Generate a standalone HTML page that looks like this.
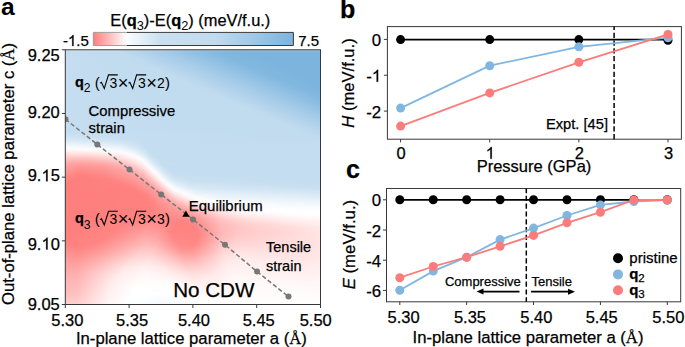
<!DOCTYPE html>
<html><head><meta charset="utf-8"><style>
html,body{margin:0;padding:0;background:#fff;width:685px;height:347px;overflow:hidden}
svg{display:block}
text{font-family:'Liberation Sans',sans-serif;fill:#000;stroke:#000;stroke-width:0.25px}
</style></head><body>
<svg width="685" height="347" viewBox="0 0 685 347">
<defs><clipPath id="hmclip"><rect x="65.30" y="49.80" width="255.20" height="254.70"/></clipPath>
<linearGradient id="g0" gradientUnits="userSpaceOnUse" x1="65.0" y1="0" x2="321.0" y2="0"><stop offset="0.0000" stop-color="#c4ddf0"/><stop offset="0.2031" stop-color="#c0dbef"/><stop offset="0.3906" stop-color="#a2cae8"/><stop offset="0.5898" stop-color="#81b7df"/><stop offset="0.7539" stop-color="#7cb4de"/><stop offset="1.0000" stop-color="#7cb4de"/></linearGradient>
<linearGradient id="g1" gradientUnits="userSpaceOnUse" x1="65.0" y1="0" x2="321.0" y2="0"><stop offset="0.0000" stop-color="#c4ddf0"/><stop offset="0.2188" stop-color="#c0dbef"/><stop offset="0.4023" stop-color="#a3cae8"/><stop offset="0.6055" stop-color="#81b7df"/><stop offset="0.7617" stop-color="#7cb4de"/><stop offset="1.0000" stop-color="#7cb4de"/></linearGradient>
<linearGradient id="g2" gradientUnits="userSpaceOnUse" x1="65.0" y1="0" x2="321.0" y2="0"><stop offset="0.0000" stop-color="#c4ddf0"/><stop offset="0.2344" stop-color="#c0dbef"/><stop offset="0.4141" stop-color="#a4cbe8"/><stop offset="0.6211" stop-color="#81b7df"/><stop offset="0.7695" stop-color="#7cb4de"/><stop offset="1.0000" stop-color="#7cb4de"/></linearGradient>
<linearGradient id="g3" gradientUnits="userSpaceOnUse" x1="65.0" y1="0" x2="321.0" y2="0"><stop offset="0.0000" stop-color="#c4ddf0"/><stop offset="0.2539" stop-color="#c0dbef"/><stop offset="0.4375" stop-color="#a3cbe8"/><stop offset="0.6406" stop-color="#81b7df"/><stop offset="0.7930" stop-color="#7cb4de"/><stop offset="1.0000" stop-color="#7cb4de"/></linearGradient>
<linearGradient id="g4" gradientUnits="userSpaceOnUse" x1="65.0" y1="0" x2="321.0" y2="0"><stop offset="0.0000" stop-color="#c4ddf0"/><stop offset="0.2695" stop-color="#c1dbef"/><stop offset="0.4492" stop-color="#a5cbe8"/><stop offset="0.6602" stop-color="#81b7df"/><stop offset="0.8164" stop-color="#7cb4de"/><stop offset="1.0000" stop-color="#7cb4de"/></linearGradient>
<linearGradient id="g5" gradientUnits="userSpaceOnUse" x1="65.0" y1="0" x2="321.0" y2="0"><stop offset="0.0000" stop-color="#c4ddf0"/><stop offset="0.2891" stop-color="#c0dbef"/><stop offset="0.4688" stop-color="#a4cbe8"/><stop offset="0.6758" stop-color="#81b7df"/><stop offset="0.8242" stop-color="#7cb4de"/><stop offset="1.0000" stop-color="#7cb4de"/></linearGradient>
<linearGradient id="g6" gradientUnits="userSpaceOnUse" x1="65.0" y1="0" x2="321.0" y2="0"><stop offset="0.0000" stop-color="#c4ddf0"/><stop offset="0.3047" stop-color="#c1dbef"/><stop offset="0.4805" stop-color="#a6cce8"/><stop offset="0.6914" stop-color="#81b7df"/><stop offset="0.8359" stop-color="#7cb4de"/><stop offset="1.0000" stop-color="#7cb4de"/></linearGradient>
<linearGradient id="g7" gradientUnits="userSpaceOnUse" x1="65.0" y1="0" x2="321.0" y2="0"><stop offset="0.0000" stop-color="#c4ddf0"/><stop offset="0.3242" stop-color="#c0dbef"/><stop offset="0.5039" stop-color="#a5cbe8"/><stop offset="0.7109" stop-color="#81b7df"/><stop offset="0.8594" stop-color="#7cb4de"/><stop offset="1.0000" stop-color="#7cb4de"/></linearGradient>
<linearGradient id="g8" gradientUnits="userSpaceOnUse" x1="65.0" y1="0" x2="321.0" y2="0"><stop offset="0.0000" stop-color="#c4ddf0"/><stop offset="0.3398" stop-color="#c1dbef"/><stop offset="0.5156" stop-color="#a6cce9"/><stop offset="0.7305" stop-color="#81b7df"/><stop offset="0.8789" stop-color="#7cb4de"/><stop offset="1.0000" stop-color="#7cb4de"/></linearGradient>
<linearGradient id="g9" gradientUnits="userSpaceOnUse" x1="65.0" y1="0" x2="321.0" y2="0"><stop offset="0.0000" stop-color="#c4ddf0"/><stop offset="0.3594" stop-color="#c1dbef"/><stop offset="0.5352" stop-color="#a6cce8"/><stop offset="0.7461" stop-color="#81b7df"/><stop offset="0.8906" stop-color="#7cb4de"/><stop offset="1.0000" stop-color="#7cb4de"/></linearGradient>
<linearGradient id="g10" gradientUnits="userSpaceOnUse" x1="65.0" y1="0" x2="321.0" y2="0"><stop offset="0.0000" stop-color="#c4ddf0"/><stop offset="0.3750" stop-color="#c1dbef"/><stop offset="0.5508" stop-color="#a6cce9"/><stop offset="0.7656" stop-color="#81b7df"/><stop offset="0.9141" stop-color="#7cb4de"/><stop offset="1.0000" stop-color="#7cb4de"/></linearGradient>
<linearGradient id="g11" gradientUnits="userSpaceOnUse" x1="65.0" y1="0" x2="321.0" y2="0"><stop offset="0.0000" stop-color="#c4ddf0"/><stop offset="0.3945" stop-color="#c1dbef"/><stop offset="0.5703" stop-color="#a6cce9"/><stop offset="0.7852" stop-color="#81b7df"/><stop offset="0.9375" stop-color="#7cb4de"/><stop offset="1.0000" stop-color="#7cb4de"/></linearGradient>
<linearGradient id="g12" gradientUnits="userSpaceOnUse" x1="65.0" y1="0" x2="321.0" y2="0"><stop offset="0.0000" stop-color="#c4ddf0"/><stop offset="0.4102" stop-color="#c1dbef"/><stop offset="0.5820" stop-color="#a7cde9"/><stop offset="0.8008" stop-color="#81b7df"/><stop offset="0.9453" stop-color="#7cb4de"/><stop offset="1.0000" stop-color="#7cb4de"/></linearGradient>
<linearGradient id="g13" gradientUnits="userSpaceOnUse" x1="65.0" y1="0" x2="321.0" y2="0"><stop offset="0.0000" stop-color="#c4ddf0"/><stop offset="0.4297" stop-color="#c1dbef"/><stop offset="0.6055" stop-color="#a6cce9"/><stop offset="0.8203" stop-color="#81b7df"/><stop offset="0.9688" stop-color="#7cb4de"/><stop offset="1.0000" stop-color="#7cb4de"/></linearGradient>
<linearGradient id="g14" gradientUnits="userSpaceOnUse" x1="65.0" y1="0" x2="321.0" y2="0"><stop offset="0.0000" stop-color="#c4ddf0"/><stop offset="0.4453" stop-color="#c1dcef"/><stop offset="0.6172" stop-color="#a7cde9"/><stop offset="0.8359" stop-color="#81b7df"/><stop offset="0.9805" stop-color="#7cb4de"/><stop offset="1.0000" stop-color="#7cb4de"/></linearGradient>
<linearGradient id="g15" gradientUnits="userSpaceOnUse" x1="65.0" y1="0" x2="321.0" y2="0"><stop offset="0.0000" stop-color="#c4ddf0"/><stop offset="0.4648" stop-color="#c1dbef"/><stop offset="0.6367" stop-color="#a7cde9"/><stop offset="0.8555" stop-color="#81b7df"/><stop offset="1.0000" stop-color="#7cb4de"/></linearGradient>
<linearGradient id="g16" gradientUnits="userSpaceOnUse" x1="65.0" y1="0" x2="321.0" y2="0"><stop offset="0.0000" stop-color="#c4ddf0"/><stop offset="0.4844" stop-color="#c1dbef"/><stop offset="0.6602" stop-color="#a6cce9"/><stop offset="0.8750" stop-color="#81b7df"/><stop offset="1.0000" stop-color="#7cb4de"/></linearGradient>
<linearGradient id="g17" gradientUnits="userSpaceOnUse" x1="65.0" y1="0" x2="321.0" y2="0"><stop offset="0.0000" stop-color="#c4ddf0"/><stop offset="0.5000" stop-color="#c1dbef"/><stop offset="0.6719" stop-color="#a7cde9"/><stop offset="0.8906" stop-color="#81b7df"/><stop offset="1.0000" stop-color="#7cb4de"/></linearGradient>
<linearGradient id="g18" gradientUnits="userSpaceOnUse" x1="65.0" y1="0" x2="321.0" y2="0"><stop offset="0.0000" stop-color="#c4ddf0"/><stop offset="0.5195" stop-color="#c1dbef"/><stop offset="0.6914" stop-color="#a7cde9"/><stop offset="0.9102" stop-color="#81b7df"/><stop offset="1.0000" stop-color="#7cb4de"/></linearGradient>
<linearGradient id="g19" gradientUnits="userSpaceOnUse" x1="65.0" y1="0" x2="321.0" y2="0"><stop offset="0.0000" stop-color="#c4ddf0"/><stop offset="0.5352" stop-color="#c1dcef"/><stop offset="0.7070" stop-color="#a7cde9"/><stop offset="0.9258" stop-color="#82b7df"/><stop offset="1.0000" stop-color="#7cb4de"/></linearGradient>
<linearGradient id="g20" gradientUnits="userSpaceOnUse" x1="65.0" y1="0" x2="321.0" y2="0"><stop offset="0.0000" stop-color="#c4ddf0"/><stop offset="0.5547" stop-color="#c1dbef"/><stop offset="0.7266" stop-color="#a7cde9"/><stop offset="0.9453" stop-color="#81b7df"/><stop offset="1.0000" stop-color="#7db5de"/></linearGradient>
<linearGradient id="g21" gradientUnits="userSpaceOnUse" x1="65.0" y1="0" x2="321.0" y2="0"><stop offset="0.0000" stop-color="#c4ddf0"/><stop offset="0.5742" stop-color="#c1dbef"/><stop offset="0.7461" stop-color="#a7cde9"/><stop offset="0.9648" stop-color="#81b7df"/><stop offset="1.0000" stop-color="#7eb5df"/></linearGradient>
<linearGradient id="g22" gradientUnits="userSpaceOnUse" x1="65.0" y1="0" x2="321.0" y2="0"><stop offset="0.0000" stop-color="#c4ddf0"/><stop offset="0.5898" stop-color="#c1dcef"/><stop offset="0.7617" stop-color="#a7cde9"/><stop offset="0.9805" stop-color="#82b7df"/><stop offset="1.0000" stop-color="#80b6df"/></linearGradient>
<linearGradient id="g23" gradientUnits="userSpaceOnUse" x1="65.0" y1="0" x2="321.0" y2="0"><stop offset="0.0000" stop-color="#c4ddf0"/><stop offset="0.6094" stop-color="#c1dbef"/><stop offset="0.7812" stop-color="#a7cde9"/><stop offset="1.0000" stop-color="#81b7df"/></linearGradient>
<linearGradient id="g24" gradientUnits="userSpaceOnUse" x1="65.0" y1="0" x2="321.0" y2="0"><stop offset="0.0000" stop-color="#c4ddf0"/><stop offset="0.6289" stop-color="#c1dbef"/><stop offset="0.8047" stop-color="#a6cce9"/><stop offset="1.0000" stop-color="#84b8e0"/></linearGradient>
<linearGradient id="g25" gradientUnits="userSpaceOnUse" x1="65.0" y1="0" x2="321.0" y2="0"><stop offset="0.0000" stop-color="#c4ddf0"/><stop offset="0.6445" stop-color="#c1dcef"/><stop offset="0.8164" stop-color="#a7cde9"/><stop offset="1.0000" stop-color="#86bae1"/></linearGradient>
<linearGradient id="g26" gradientUnits="userSpaceOnUse" x1="65.0" y1="0" x2="321.0" y2="0"><stop offset="0.0000" stop-color="#c4ddf0"/><stop offset="0.6641" stop-color="#c1dbef"/><stop offset="0.8359" stop-color="#a7cde9"/><stop offset="1.0000" stop-color="#89bbe1"/></linearGradient>
<linearGradient id="g27" gradientUnits="userSpaceOnUse" x1="65.0" y1="0" x2="321.0" y2="0"><stop offset="0.0000" stop-color="#c4ddf0"/><stop offset="0.6797" stop-color="#c1dcef"/><stop offset="0.8516" stop-color="#a8cde9"/><stop offset="1.0000" stop-color="#8cbde2"/></linearGradient>
<linearGradient id="g28" gradientUnits="userSpaceOnUse" x1="65.0" y1="0" x2="321.0" y2="0"><stop offset="0.0000" stop-color="#c4ddf0"/><stop offset="0.6992" stop-color="#c1dcef"/><stop offset="0.8711" stop-color="#a7cde9"/><stop offset="1.0000" stop-color="#8fbfe3"/></linearGradient>
<linearGradient id="g29" gradientUnits="userSpaceOnUse" x1="65.0" y1="0" x2="321.0" y2="0"><stop offset="0.0000" stop-color="#c4ddf0"/><stop offset="0.7188" stop-color="#c1dbef"/><stop offset="0.8906" stop-color="#a7cde9"/><stop offset="1.0000" stop-color="#92c1e4"/></linearGradient>
<linearGradient id="g30" gradientUnits="userSpaceOnUse" x1="65.0" y1="0" x2="321.0" y2="0"><stop offset="0.0000" stop-color="#c4ddf0"/><stop offset="0.7344" stop-color="#c1dcef"/><stop offset="0.9062" stop-color="#a8cde9"/><stop offset="1.0000" stop-color="#95c2e4"/></linearGradient>
<linearGradient id="g31" gradientUnits="userSpaceOnUse" x1="65.0" y1="0" x2="321.0" y2="0"><stop offset="0.0000" stop-color="#c4ddf0"/><stop offset="0.7539" stop-color="#c1dcef"/><stop offset="0.9258" stop-color="#a7cde9"/><stop offset="1.0000" stop-color="#99c4e5"/></linearGradient>
<linearGradient id="g32" gradientUnits="userSpaceOnUse" x1="65.0" y1="0" x2="321.0" y2="0"><stop offset="0.0000" stop-color="#c4ddf0"/><stop offset="0.7734" stop-color="#c1dbef"/><stop offset="0.9453" stop-color="#a7cde9"/><stop offset="1.0000" stop-color="#9cc7e6"/></linearGradient>
<linearGradient id="g33" gradientUnits="userSpaceOnUse" x1="65.0" y1="0" x2="321.0" y2="0"><stop offset="0.0000" stop-color="#c4ddf0"/><stop offset="0.7891" stop-color="#c1dcef"/><stop offset="0.9609" stop-color="#a8cde9"/><stop offset="1.0000" stop-color="#a0c9e7"/></linearGradient>
<linearGradient id="g34" gradientUnits="userSpaceOnUse" x1="65.0" y1="0" x2="321.0" y2="0"><stop offset="0.0000" stop-color="#c4ddf0"/><stop offset="0.8086" stop-color="#c1dcef"/><stop offset="0.9805" stop-color="#a7cde9"/><stop offset="1.0000" stop-color="#a3cbe8"/></linearGradient>
<linearGradient id="g35" gradientUnits="userSpaceOnUse" x1="65.0" y1="0" x2="321.0" y2="0"><stop offset="0.0000" stop-color="#c4ddf0"/><stop offset="0.8242" stop-color="#c1dcef"/><stop offset="0.9922" stop-color="#a9cde9"/><stop offset="1.0000" stop-color="#a7cde9"/></linearGradient>
<linearGradient id="g36" gradientUnits="userSpaceOnUse" x1="65.0" y1="0" x2="321.0" y2="0"><stop offset="0.0000" stop-color="#c4ddf0"/><stop offset="0.8438" stop-color="#c1dcef"/><stop offset="1.0000" stop-color="#abcfea"/></linearGradient>
<linearGradient id="g37" gradientUnits="userSpaceOnUse" x1="65.0" y1="0" x2="321.0" y2="0"><stop offset="0.0000" stop-color="#c4ddf0"/><stop offset="0.8633" stop-color="#c1dcef"/><stop offset="1.0000" stop-color="#aed1eb"/></linearGradient>
<linearGradient id="g38" gradientUnits="userSpaceOnUse" x1="65.0" y1="0" x2="321.0" y2="0"><stop offset="0.0000" stop-color="#c4ddf0"/><stop offset="0.8789" stop-color="#c1dcef"/><stop offset="1.0000" stop-color="#b1d2eb"/></linearGradient>
<linearGradient id="g39" gradientUnits="userSpaceOnUse" x1="65.0" y1="0" x2="321.0" y2="0"><stop offset="0.0000" stop-color="#c4ddf0"/><stop offset="0.8984" stop-color="#c1dcef"/><stop offset="1.0000" stop-color="#b4d4ec"/></linearGradient>
<linearGradient id="g40" gradientUnits="userSpaceOnUse" x1="65.0" y1="0" x2="321.0" y2="0"><stop offset="0.0000" stop-color="#c4ddf0"/><stop offset="0.9180" stop-color="#c1dbef"/><stop offset="1.0000" stop-color="#b7d6ed"/></linearGradient>
<linearGradient id="g41" gradientUnits="userSpaceOnUse" x1="65.0" y1="0" x2="321.0" y2="0"><stop offset="0.0000" stop-color="#c5def0"/><stop offset="0.9375" stop-color="#c1dbef"/><stop offset="1.0000" stop-color="#bad7ee"/></linearGradient>
<linearGradient id="g42" gradientUnits="userSpaceOnUse" x1="65.0" y1="0" x2="321.0" y2="0"><stop offset="0.0000" stop-color="#c9e0f1"/><stop offset="0.4570" stop-color="#c4ddf0"/><stop offset="0.9570" stop-color="#c1dbef"/><stop offset="1.0000" stop-color="#bcd9ee"/></linearGradient>
<linearGradient id="g43" gradientUnits="userSpaceOnUse" x1="65.0" y1="0" x2="321.0" y2="0"><stop offset="0.0000" stop-color="#cde3f3"/><stop offset="0.3359" stop-color="#c4ddf0"/><stop offset="0.9727" stop-color="#c1dbef"/><stop offset="1.0000" stop-color="#bedaef"/></linearGradient>
<linearGradient id="g44" gradientUnits="userSpaceOnUse" x1="65.0" y1="0" x2="321.0" y2="0"><stop offset="0.0000" stop-color="#d4e6f4"/><stop offset="0.2383" stop-color="#c6def1"/><stop offset="0.9922" stop-color="#c1dbef"/><stop offset="1.0000" stop-color="#c0dbef"/></linearGradient>
<linearGradient id="g45" gradientUnits="userSpaceOnUse" x1="65.0" y1="0" x2="321.0" y2="0"><stop offset="0.0000" stop-color="#dcebf6"/><stop offset="0.2227" stop-color="#cce2f2"/><stop offset="0.3047" stop-color="#c4ddf0"/><stop offset="1.0000" stop-color="#c2dcf0"/></linearGradient>
<linearGradient id="g46" gradientUnits="userSpaceOnUse" x1="65.0" y1="0" x2="321.0" y2="0"><stop offset="0.0000" stop-color="#e4f0f8"/><stop offset="0.2148" stop-color="#d4e7f4"/><stop offset="0.3047" stop-color="#c4ddf0"/><stop offset="1.0000" stop-color="#c3dcf0"/></linearGradient>
<linearGradient id="g47" gradientUnits="userSpaceOnUse" x1="65.0" y1="0" x2="321.0" y2="0"><stop offset="0.0000" stop-color="#eef5fb"/><stop offset="0.2148" stop-color="#dcebf6"/><stop offset="0.3125" stop-color="#c4ddf0"/><stop offset="1.0000" stop-color="#c3ddf0"/></linearGradient>
<linearGradient id="g48" gradientUnits="userSpaceOnUse" x1="65.0" y1="0" x2="321.0" y2="0"><stop offset="0.0000" stop-color="#f8fbfd"/><stop offset="0.2109" stop-color="#e6f1f9"/><stop offset="0.2734" stop-color="#d2e5f4"/><stop offset="0.3203" stop-color="#c4ddf0"/><stop offset="1.0000" stop-color="#c4ddf0"/></linearGradient>
<linearGradient id="g49" gradientUnits="userSpaceOnUse" x1="65.0" y1="0" x2="321.0" y2="0"><stop offset="0.0000" stop-color="#fffcfc"/><stop offset="0.1016" stop-color="#fcfdfe"/><stop offset="0.2148" stop-color="#eff6fb"/><stop offset="0.2695" stop-color="#dcebf6"/><stop offset="0.3242" stop-color="#c4ddf0"/><stop offset="1.0000" stop-color="#c4ddf0"/></linearGradient>
<linearGradient id="g50" gradientUnits="userSpaceOnUse" x1="65.0" y1="0" x2="321.0" y2="0"><stop offset="0.0000" stop-color="#fff1f1"/><stop offset="0.1992" stop-color="#fdfeff"/><stop offset="0.2695" stop-color="#e5f0f8"/><stop offset="0.3281" stop-color="#c4ddf0"/><stop offset="1.0000" stop-color="#c4ddf0"/></linearGradient>
<linearGradient id="g51" gradientUnits="userSpaceOnUse" x1="65.0" y1="0" x2="321.0" y2="0"><stop offset="0.0000" stop-color="#ffe6e5"/><stop offset="0.1250" stop-color="#ffecec"/><stop offset="0.2148" stop-color="#fffbfb"/><stop offset="0.2344" stop-color="#fdfefe"/><stop offset="0.2695" stop-color="#eef5fb"/><stop offset="0.3320" stop-color="#c5def0"/><stop offset="1.0000" stop-color="#c4ddf0"/></linearGradient>
<linearGradient id="g52" gradientUnits="userSpaceOnUse" x1="65.0" y1="0" x2="321.0" y2="0"><stop offset="0.0000" stop-color="#ffd9d9"/><stop offset="0.1016" stop-color="#ffdcdb"/><stop offset="0.2109" stop-color="#ffeeee"/><stop offset="0.2617" stop-color="#fefeff"/><stop offset="0.3086" stop-color="#dcebf6"/><stop offset="0.3359" stop-color="#c7dff1"/><stop offset="0.3984" stop-color="#c4ddf0"/><stop offset="1.0000" stop-color="#c4ddf0"/></linearGradient>
<linearGradient id="g53" gradientUnits="userSpaceOnUse" x1="65.0" y1="0" x2="321.0" y2="0"><stop offset="0.0000" stop-color="#ffcdcc"/><stop offset="0.0859" stop-color="#ffcccb"/><stop offset="0.2070" stop-color="#ffe0e0"/><stop offset="0.2695" stop-color="#fffcfc"/><stop offset="0.2812" stop-color="#fafcfe"/><stop offset="0.3086" stop-color="#e5f0f8"/><stop offset="0.3359" stop-color="#cbe1f2"/><stop offset="0.3633" stop-color="#c4ddf0"/><stop offset="1.0000" stop-color="#c4ddf0"/></linearGradient>
<linearGradient id="g54" gradientUnits="userSpaceOnUse" x1="65.0" y1="0" x2="321.0" y2="0"><stop offset="0.0000" stop-color="#ffc1c0"/><stop offset="0.0781" stop-color="#febdbc"/><stop offset="0.1992" stop-color="#ffd1d0"/><stop offset="0.2695" stop-color="#fff2f1"/><stop offset="0.2891" stop-color="#ffffff"/><stop offset="0.3086" stop-color="#eff6fb"/><stop offset="0.3398" stop-color="#cee3f3"/><stop offset="0.3672" stop-color="#c4ddf0"/><stop offset="1.0000" stop-color="#c4ddf0"/></linearGradient>
<linearGradient id="g55" gradientUnits="userSpaceOnUse" x1="65.0" y1="0" x2="321.0" y2="0"><stop offset="0.0000" stop-color="#feb6b5"/><stop offset="0.0703" stop-color="#feb0ae"/><stop offset="0.1719" stop-color="#febebd"/><stop offset="0.2188" stop-color="#ffcccc"/><stop offset="0.2695" stop-color="#ffe7e6"/><stop offset="0.3047" stop-color="#fefeff"/><stop offset="0.3398" stop-color="#d5e7f4"/><stop offset="0.3672" stop-color="#c5def0"/><stop offset="1.0000" stop-color="#c4ddf0"/></linearGradient>
<linearGradient id="g56" gradientUnits="userSpaceOnUse" x1="65.0" y1="0" x2="321.0" y2="0"><stop offset="0.0000" stop-color="#feacab"/><stop offset="0.0664" stop-color="#fea4a3"/><stop offset="0.1562" stop-color="#feaead"/><stop offset="0.2148" stop-color="#febfbe"/><stop offset="0.2695" stop-color="#ffdbdb"/><stop offset="0.3125" stop-color="#fefeff"/><stop offset="0.3477" stop-color="#d5e7f4"/><stop offset="0.3750" stop-color="#c5def0"/><stop offset="1.0000" stop-color="#c4ddf0"/></linearGradient>
<linearGradient id="g57" gradientUnits="userSpaceOnUse" x1="65.0" y1="0" x2="321.0" y2="0"><stop offset="0.0000" stop-color="#fea5a3"/><stop offset="0.0625" stop-color="#fe9b99"/><stop offset="0.1484" stop-color="#fea2a1"/><stop offset="0.2188" stop-color="#feb5b4"/><stop offset="0.2695" stop-color="#ffd0cf"/><stop offset="0.3086" stop-color="#fff1f1"/><stop offset="0.3203" stop-color="#fefeff"/><stop offset="0.3555" stop-color="#d6e7f5"/><stop offset="0.3828" stop-color="#c5def0"/><stop offset="1.0000" stop-color="#c4ddf0"/></linearGradient>
<linearGradient id="g58" gradientUnits="userSpaceOnUse" x1="65.0" y1="0" x2="321.0" y2="0"><stop offset="0.0000" stop-color="#fea09e"/><stop offset="0.0625" stop-color="#fe9492"/><stop offset="0.1523" stop-color="#fe9b9a"/><stop offset="0.2227" stop-color="#feadac"/><stop offset="0.2695" stop-color="#ffc5c4"/><stop offset="0.3086" stop-color="#ffe7e6"/><stop offset="0.3281" stop-color="#fefeff"/><stop offset="0.3672" stop-color="#d3e6f4"/><stop offset="0.3945" stop-color="#c4ddf0"/><stop offset="1.0000" stop-color="#c4ddf0"/></linearGradient>
<linearGradient id="g59" gradientUnits="userSpaceOnUse" x1="65.0" y1="0" x2="321.0" y2="0"><stop offset="0.0000" stop-color="#fe9b9a"/><stop offset="0.0625" stop-color="#fe8f8e"/><stop offset="0.1562" stop-color="#fe9695"/><stop offset="0.2344" stop-color="#fea9a8"/><stop offset="0.2734" stop-color="#febdbc"/><stop offset="0.3086" stop-color="#ffdbdb"/><stop offset="0.3359" stop-color="#feffff"/><stop offset="0.3789" stop-color="#d0e4f3"/><stop offset="0.4023" stop-color="#c4ddf0"/><stop offset="1.0000" stop-color="#c4ddf0"/></linearGradient>
<linearGradient id="g60" gradientUnits="userSpaceOnUse" x1="65.0" y1="0" x2="321.0" y2="0"><stop offset="0.0000" stop-color="#fe9795"/><stop offset="0.0586" stop-color="#fe8b89"/><stop offset="0.1523" stop-color="#fe9190"/><stop offset="0.2539" stop-color="#fea9a8"/><stop offset="0.2969" stop-color="#ffc4c3"/><stop offset="0.3125" stop-color="#ffd5d4"/><stop offset="0.3438" stop-color="#ffffff"/><stop offset="0.3867" stop-color="#d0e4f3"/><stop offset="0.4141" stop-color="#c4ddf0"/><stop offset="1.0000" stop-color="#c4ddf0"/></linearGradient>
<linearGradient id="g61" gradientUnits="userSpaceOnUse" x1="65.0" y1="0" x2="321.0" y2="0"><stop offset="0.0000" stop-color="#fe9290"/><stop offset="0.0586" stop-color="#fe8684"/><stop offset="0.1523" stop-color="#fe8d8b"/><stop offset="0.2656" stop-color="#fea8a6"/><stop offset="0.3047" stop-color="#ffbfbe"/><stop offset="0.3516" stop-color="#ffffff"/><stop offset="0.3945" stop-color="#d0e4f3"/><stop offset="0.4258" stop-color="#c4ddf0"/><stop offset="1.0000" stop-color="#c4ddf0"/></linearGradient>
<linearGradient id="g62" gradientUnits="userSpaceOnUse" x1="65.0" y1="0" x2="321.0" y2="0"><stop offset="0.0000" stop-color="#fe8e8c"/><stop offset="0.0586" stop-color="#fe8280"/><stop offset="0.1562" stop-color="#fe8988"/><stop offset="0.2695" stop-color="#fea4a2"/><stop offset="0.3047" stop-color="#feb5b4"/><stop offset="0.3594" stop-color="#fffefe"/><stop offset="0.3984" stop-color="#d4e6f4"/><stop offset="0.4297" stop-color="#c6def1"/><stop offset="1.0000" stop-color="#c4ddf0"/></linearGradient>
<linearGradient id="g63" gradientUnits="userSpaceOnUse" x1="65.0" y1="0" x2="321.0" y2="0"><stop offset="0.0000" stop-color="#fe8a88"/><stop offset="0.0469" stop-color="#fe7f7d"/><stop offset="0.1367" stop-color="#fe8281"/><stop offset="0.2578" stop-color="#fe9b9a"/><stop offset="0.3047" stop-color="#feadab"/><stop offset="0.3281" stop-color="#ffc7c6"/><stop offset="0.3672" stop-color="#fffdfd"/><stop offset="0.4023" stop-color="#d9e9f5"/><stop offset="0.4297" stop-color="#c9e0f1"/><stop offset="0.5078" stop-color="#c7dff1"/><stop offset="1.0000" stop-color="#c4ddf0"/></linearGradient>
<linearGradient id="g64" gradientUnits="userSpaceOnUse" x1="65.0" y1="0" x2="321.0" y2="0"><stop offset="0.0000" stop-color="#fe8684"/><stop offset="0.0312" stop-color="#fe7f7d"/><stop offset="0.1602" stop-color="#fe8280"/><stop offset="0.2695" stop-color="#fe9a98"/><stop offset="0.3125" stop-color="#feaba9"/><stop offset="0.3398" stop-color="#ffcbca"/><stop offset="0.3750" stop-color="#fffdfd"/><stop offset="0.4102" stop-color="#daeaf6"/><stop offset="0.4336" stop-color="#cde2f2"/><stop offset="0.4961" stop-color="#c7dff1"/><stop offset="1.0000" stop-color="#c4ddf0"/></linearGradient>
<linearGradient id="g65" gradientUnits="userSpaceOnUse" x1="65.0" y1="0" x2="321.0" y2="0"><stop offset="0.0000" stop-color="#fe8280"/><stop offset="0.0703" stop-color="#fe7f7d"/><stop offset="0.1836" stop-color="#fe8280"/><stop offset="0.2852" stop-color="#fe9a98"/><stop offset="0.3203" stop-color="#fea9a8"/><stop offset="0.3477" stop-color="#ffc9c8"/><stop offset="0.3828" stop-color="#fffdfd"/><stop offset="0.3984" stop-color="#eef5fb"/><stop offset="0.4297" stop-color="#d5e7f4"/><stop offset="0.4883" stop-color="#c9e0f1"/><stop offset="0.7266" stop-color="#c5def0"/><stop offset="1.0000" stop-color="#c4ddf0"/></linearGradient>
<linearGradient id="g66" gradientUnits="userSpaceOnUse" x1="65.0" y1="0" x2="321.0" y2="0"><stop offset="0.0000" stop-color="#fe7f7d"/><stop offset="0.2070" stop-color="#fe8280"/><stop offset="0.2969" stop-color="#fe9997"/><stop offset="0.3281" stop-color="#fea7a6"/><stop offset="0.3555" stop-color="#ffc8c7"/><stop offset="0.3906" stop-color="#fffcfc"/><stop offset="0.4023" stop-color="#f4f9fc"/><stop offset="0.4297" stop-color="#ddebf6"/><stop offset="0.4883" stop-color="#cde2f2"/><stop offset="1.0000" stop-color="#c4ddf0"/></linearGradient>
<linearGradient id="g67" gradientUnits="userSpaceOnUse" x1="65.0" y1="0" x2="321.0" y2="0"><stop offset="0.0000" stop-color="#fe7f7d"/><stop offset="0.2266" stop-color="#fe817f"/><stop offset="0.3125" stop-color="#fe9a98"/><stop offset="0.3398" stop-color="#fea9a8"/><stop offset="0.3672" stop-color="#ffcccb"/><stop offset="0.3984" stop-color="#fffbfb"/><stop offset="0.4023" stop-color="#ffffff"/><stop offset="0.4297" stop-color="#e6f0f9"/><stop offset="0.4883" stop-color="#d1e5f4"/><stop offset="0.5703" stop-color="#cfe3f3"/><stop offset="1.0000" stop-color="#c5def0"/></linearGradient>
<linearGradient id="g68" gradientUnits="userSpaceOnUse" x1="65.0" y1="0" x2="321.0" y2="0"><stop offset="0.0000" stop-color="#fe7f7d"/><stop offset="0.2500" stop-color="#fe8280"/><stop offset="0.3320" stop-color="#fe9d9c"/><stop offset="0.3555" stop-color="#feb0ae"/><stop offset="0.4023" stop-color="#fff4f4"/><stop offset="0.4141" stop-color="#fdfeff"/><stop offset="0.4336" stop-color="#edf5fa"/><stop offset="0.4922" stop-color="#d7e8f5"/><stop offset="0.5664" stop-color="#d2e5f4"/><stop offset="1.0000" stop-color="#c7dff1"/></linearGradient>
<linearGradient id="g69" gradientUnits="userSpaceOnUse" x1="65.0" y1="0" x2="321.0" y2="0"><stop offset="0.0000" stop-color="#fe7f7d"/><stop offset="0.2656" stop-color="#fe817f"/><stop offset="0.3438" stop-color="#fe9e9c"/><stop offset="0.3672" stop-color="#feb3b2"/><stop offset="0.4062" stop-color="#ffecec"/><stop offset="0.4219" stop-color="#ffffff"/><stop offset="0.4805" stop-color="#e2eef8"/><stop offset="0.5312" stop-color="#d7e8f5"/><stop offset="1.0000" stop-color="#cae1f2"/></linearGradient>
<linearGradient id="g70" gradientUnits="userSpaceOnUse" x1="65.0" y1="0" x2="321.0" y2="0"><stop offset="0.0000" stop-color="#fe7f7d"/><stop offset="0.2812" stop-color="#fe817f"/><stop offset="0.3555" stop-color="#fe9f9d"/><stop offset="0.3789" stop-color="#feb8b7"/><stop offset="0.4219" stop-color="#fff3f3"/><stop offset="0.4375" stop-color="#ffffff"/><stop offset="0.5039" stop-color="#e2eef8"/><stop offset="0.6016" stop-color="#daeaf6"/><stop offset="1.0000" stop-color="#cee3f3"/></linearGradient>
<linearGradient id="g71" gradientUnits="userSpaceOnUse" x1="65.0" y1="0" x2="321.0" y2="0"><stop offset="0.0000" stop-color="#fe7f7d"/><stop offset="0.2930" stop-color="#fe817f"/><stop offset="0.3672" stop-color="#fea19f"/><stop offset="0.3906" stop-color="#febdbb"/><stop offset="0.4297" stop-color="#ffefee"/><stop offset="0.4570" stop-color="#ffffff"/><stop offset="0.5195" stop-color="#e6f1f9"/><stop offset="0.6328" stop-color="#dfedf7"/><stop offset="1.0000" stop-color="#d3e6f4"/></linearGradient>
<linearGradient id="g72" gradientUnits="userSpaceOnUse" x1="65.0" y1="0" x2="321.0" y2="0"><stop offset="0.0000" stop-color="#fe7f7d"/><stop offset="0.3047" stop-color="#fe817f"/><stop offset="0.3750" stop-color="#fea09f"/><stop offset="0.4141" stop-color="#ffcfce"/><stop offset="0.4297" stop-color="#ffe2e1"/><stop offset="0.4727" stop-color="#fffefe"/><stop offset="0.5273" stop-color="#ecf4fa"/><stop offset="0.6328" stop-color="#e4f0f8"/><stop offset="1.0000" stop-color="#d8e9f5"/></linearGradient>
<linearGradient id="g73" gradientUnits="userSpaceOnUse" x1="65.0" y1="0" x2="321.0" y2="0"><stop offset="0.0000" stop-color="#fe7f7d"/><stop offset="0.3125" stop-color="#fe817f"/><stop offset="0.3867" stop-color="#fea3a2"/><stop offset="0.4336" stop-color="#ffd8d7"/><stop offset="0.4844" stop-color="#fffafa"/><stop offset="0.5000" stop-color="#fdfefe"/><stop offset="0.5703" stop-color="#edf5fa"/><stop offset="1.0000" stop-color="#ddecf7"/></linearGradient>
<linearGradient id="g74" gradientUnits="userSpaceOnUse" x1="65.0" y1="0" x2="321.0" y2="0"><stop offset="0.0000" stop-color="#fe7f7d"/><stop offset="0.3203" stop-color="#fe817f"/><stop offset="0.3945" stop-color="#fea3a1"/><stop offset="0.4375" stop-color="#ffcecd"/><stop offset="0.4961" stop-color="#fff6f6"/><stop offset="0.5195" stop-color="#fefeff"/><stop offset="0.6133" stop-color="#eff6fb"/><stop offset="1.0000" stop-color="#e3eff8"/></linearGradient>
<linearGradient id="g75" gradientUnits="userSpaceOnUse" x1="65.0" y1="0" x2="321.0" y2="0"><stop offset="0.0000" stop-color="#fe7f7d"/><stop offset="0.3281" stop-color="#fe8280"/><stop offset="0.4062" stop-color="#fea4a3"/><stop offset="0.4609" stop-color="#ffd3d2"/><stop offset="0.5156" stop-color="#fff6f6"/><stop offset="0.5508" stop-color="#fefeff"/><stop offset="0.6406" stop-color="#f4f8fc"/><stop offset="1.0000" stop-color="#e8f2f9"/></linearGradient>
<linearGradient id="g76" gradientUnits="userSpaceOnUse" x1="65.0" y1="0" x2="321.0" y2="0"><stop offset="0.0000" stop-color="#fe7f7d"/><stop offset="0.3320" stop-color="#fe817f"/><stop offset="0.4141" stop-color="#fea2a1"/><stop offset="0.5156" stop-color="#ffeceb"/><stop offset="0.5781" stop-color="#ffffff"/><stop offset="0.7031" stop-color="#f6fafd"/><stop offset="1.0000" stop-color="#eef5fb"/></linearGradient>
<linearGradient id="g77" gradientUnits="userSpaceOnUse" x1="65.0" y1="0" x2="321.0" y2="0"><stop offset="0.0000" stop-color="#fe7f7d"/><stop offset="0.3359" stop-color="#fe8280"/><stop offset="0.4258" stop-color="#fea3a1"/><stop offset="0.5273" stop-color="#ffe6e6"/><stop offset="0.5938" stop-color="#fffdfd"/><stop offset="1.0000" stop-color="#f3f8fc"/></linearGradient>
<linearGradient id="g78" gradientUnits="userSpaceOnUse" x1="65.0" y1="0" x2="321.0" y2="0"><stop offset="0.0000" stop-color="#fe7f7d"/><stop offset="0.3359" stop-color="#fe817f"/><stop offset="0.4453" stop-color="#fea5a3"/><stop offset="0.5391" stop-color="#ffe1e0"/><stop offset="0.6055" stop-color="#fff9f9"/><stop offset="0.6641" stop-color="#fefeff"/><stop offset="1.0000" stop-color="#f7fafd"/></linearGradient>
<linearGradient id="g79" gradientUnits="userSpaceOnUse" x1="65.0" y1="0" x2="321.0" y2="0"><stop offset="0.0000" stop-color="#fe7f7d"/><stop offset="0.3359" stop-color="#fe817f"/><stop offset="0.4609" stop-color="#fea4a2"/><stop offset="0.5625" stop-color="#ffe1e1"/><stop offset="0.6250" stop-color="#fff6f6"/><stop offset="0.7031" stop-color="#ffffff"/><stop offset="1.0000" stop-color="#fafcfe"/></linearGradient>
<linearGradient id="g80" gradientUnits="userSpaceOnUse" x1="65.0" y1="0" x2="321.0" y2="0"><stop offset="0.0000" stop-color="#fe7f7d"/><stop offset="0.3320" stop-color="#fe817f"/><stop offset="0.4727" stop-color="#fea19f"/><stop offset="0.5820" stop-color="#ffe0e0"/><stop offset="0.6523" stop-color="#fff4f4"/><stop offset="0.7539" stop-color="#ffffff"/><stop offset="1.0000" stop-color="#fdfeff"/></linearGradient>
<linearGradient id="g81" gradientUnits="userSpaceOnUse" x1="65.0" y1="0" x2="321.0" y2="0"><stop offset="0.0000" stop-color="#fe7f7d"/><stop offset="0.3281" stop-color="#fe8280"/><stop offset="0.4766" stop-color="#fe9b9a"/><stop offset="0.5430" stop-color="#ffc0bf"/><stop offset="0.6094" stop-color="#ffe1e1"/><stop offset="0.7070" stop-color="#fff6f5"/><stop offset="0.8828" stop-color="#ffffff"/><stop offset="1.0000" stop-color="#ffffff"/></linearGradient>
<linearGradient id="g82" gradientUnits="userSpaceOnUse" x1="65.0" y1="0" x2="321.0" y2="0"><stop offset="0.0000" stop-color="#fe7f7d"/><stop offset="0.3203" stop-color="#fe8381"/><stop offset="0.4727" stop-color="#fe9593"/><stop offset="0.5234" stop-color="#feaaa9"/><stop offset="0.6055" stop-color="#ffd7d6"/><stop offset="0.6992" stop-color="#ffeeed"/><stop offset="0.8828" stop-color="#fffcfc"/><stop offset="1.0000" stop-color="#fffefe"/></linearGradient>
<linearGradient id="g83" gradientUnits="userSpaceOnUse" x1="65.0" y1="0" x2="321.0" y2="0"><stop offset="0.0000" stop-color="#fe7f7d"/><stop offset="0.3047" stop-color="#fe8381"/><stop offset="0.3945" stop-color="#fe8b89"/><stop offset="0.4688" stop-color="#fe8e8d"/><stop offset="0.5273" stop-color="#fea5a3"/><stop offset="0.6133" stop-color="#ffd1d0"/><stop offset="0.7109" stop-color="#ffe7e7"/><stop offset="0.8867" stop-color="#fff7f7"/><stop offset="1.0000" stop-color="#fffbfb"/></linearGradient>
<linearGradient id="g84" gradientUnits="userSpaceOnUse" x1="65.0" y1="0" x2="321.0" y2="0"><stop offset="0.0000" stop-color="#fe7f7d"/><stop offset="0.2812" stop-color="#fe8381"/><stop offset="0.3711" stop-color="#fe8b89"/><stop offset="0.4609" stop-color="#fe8887"/><stop offset="0.5156" stop-color="#fe9998"/><stop offset="0.6172" stop-color="#ffcac9"/><stop offset="0.7188" stop-color="#ffe1e1"/><stop offset="0.8906" stop-color="#fff2f2"/><stop offset="1.0000" stop-color="#fff7f7"/></linearGradient>
<linearGradient id="g85" gradientUnits="userSpaceOnUse" x1="65.0" y1="0" x2="321.0" y2="0"><stop offset="0.0000" stop-color="#fe7f7d"/><stop offset="0.2617" stop-color="#fe8381"/><stop offset="0.3555" stop-color="#fe8d8b"/><stop offset="0.4609" stop-color="#fe8482"/><stop offset="0.5117" stop-color="#fe9291"/><stop offset="0.6133" stop-color="#ffc3c2"/><stop offset="0.7227" stop-color="#ffdbda"/><stop offset="0.8906" stop-color="#ffeded"/><stop offset="1.0000" stop-color="#fff3f3"/></linearGradient>
<linearGradient id="g86" gradientUnits="userSpaceOnUse" x1="65.0" y1="0" x2="321.0" y2="0"><stop offset="0.0000" stop-color="#fe7f7d"/><stop offset="0.2383" stop-color="#fe8381"/><stop offset="0.3438" stop-color="#fe908e"/><stop offset="0.4609" stop-color="#fe817f"/><stop offset="0.5078" stop-color="#fe8c8a"/><stop offset="0.6055" stop-color="#febcbb"/><stop offset="0.7148" stop-color="#ffd3d3"/><stop offset="0.8867" stop-color="#ffe8e8"/><stop offset="1.0000" stop-color="#fff0ef"/></linearGradient>
<linearGradient id="g87" gradientUnits="userSpaceOnUse" x1="65.0" y1="0" x2="321.0" y2="0"><stop offset="0.0000" stop-color="#fe7f7d"/><stop offset="0.2227" stop-color="#fe8482"/><stop offset="0.3359" stop-color="#fe9391"/><stop offset="0.4023" stop-color="#fe8886"/><stop offset="0.4414" stop-color="#fe817f"/><stop offset="0.4961" stop-color="#fe8382"/><stop offset="0.6094" stop-color="#febab9"/><stop offset="0.7227" stop-color="#ffd0cf"/><stop offset="0.9023" stop-color="#ffe5e4"/><stop offset="1.0000" stop-color="#ffecec"/></linearGradient>
<linearGradient id="g88" gradientUnits="userSpaceOnUse" x1="65.0" y1="0" x2="321.0" y2="0"><stop offset="0.0000" stop-color="#fe7f7d"/><stop offset="0.2070" stop-color="#fe8482"/><stop offset="0.3281" stop-color="#fe9795"/><stop offset="0.3867" stop-color="#fe8d8c"/><stop offset="0.4297" stop-color="#fe8280"/><stop offset="0.5039" stop-color="#fe8381"/><stop offset="0.6094" stop-color="#feb9b8"/><stop offset="0.6914" stop-color="#ffc9c8"/><stop offset="0.9102" stop-color="#ffe1e1"/><stop offset="1.0000" stop-color="#ffe9e9"/></linearGradient>
<linearGradient id="g89" gradientUnits="userSpaceOnUse" x1="65.0" y1="0" x2="321.0" y2="0"><stop offset="0.0000" stop-color="#fe7f7d"/><stop offset="0.1953" stop-color="#fe8482"/><stop offset="0.3242" stop-color="#fe9a99"/><stop offset="0.3789" stop-color="#fe9290"/><stop offset="0.4258" stop-color="#fe8381"/><stop offset="0.5117" stop-color="#fe8482"/><stop offset="0.6094" stop-color="#feb8b6"/><stop offset="0.6836" stop-color="#ffc8c7"/><stop offset="0.9453" stop-color="#ffe2e1"/><stop offset="1.0000" stop-color="#ffe7e7"/></linearGradient>
<linearGradient id="g90" gradientUnits="userSpaceOnUse" x1="65.0" y1="0" x2="321.0" y2="0"><stop offset="0.0000" stop-color="#fe7f7d"/><stop offset="0.1875" stop-color="#fe8482"/><stop offset="0.3164" stop-color="#fe9e9c"/><stop offset="0.3672" stop-color="#fe9896"/><stop offset="0.4219" stop-color="#fe8482"/><stop offset="0.5156" stop-color="#fe8482"/><stop offset="0.6094" stop-color="#feb7b6"/><stop offset="0.6797" stop-color="#ffc7c6"/><stop offset="0.9336" stop-color="#ffdfde"/><stop offset="1.0000" stop-color="#ffe5e5"/></linearGradient>
<linearGradient id="g91" gradientUnits="userSpaceOnUse" x1="65.0" y1="0" x2="321.0" y2="0"><stop offset="0.0000" stop-color="#fe7f7d"/><stop offset="0.1797" stop-color="#fe8583"/><stop offset="0.3164" stop-color="#fea1a0"/><stop offset="0.3672" stop-color="#fe9a99"/><stop offset="0.4219" stop-color="#fe8583"/><stop offset="0.5195" stop-color="#fe8583"/><stop offset="0.6055" stop-color="#feb6b5"/><stop offset="0.6719" stop-color="#ffc7c6"/><stop offset="0.9336" stop-color="#ffdede"/><stop offset="1.0000" stop-color="#ffe5e4"/></linearGradient>
<linearGradient id="g92" gradientUnits="userSpaceOnUse" x1="65.0" y1="0" x2="321.0" y2="0"><stop offset="0.0000" stop-color="#fe7f7d"/><stop offset="0.1719" stop-color="#fe8583"/><stop offset="0.3125" stop-color="#fea5a4"/><stop offset="0.3594" stop-color="#fea09f"/><stop offset="0.4219" stop-color="#fe8684"/><stop offset="0.5195" stop-color="#fe8482"/><stop offset="0.6094" stop-color="#feb9b8"/><stop offset="0.6758" stop-color="#ffc9c8"/><stop offset="1.0000" stop-color="#ffe4e4"/></linearGradient>
<linearGradient id="g93" gradientUnits="userSpaceOnUse" x1="65.0" y1="0" x2="321.0" y2="0"><stop offset="0.0000" stop-color="#fe807e"/><stop offset="0.1602" stop-color="#fe8583"/><stop offset="0.3125" stop-color="#fea9a8"/><stop offset="0.3594" stop-color="#fea4a2"/><stop offset="0.4258" stop-color="#fe8785"/><stop offset="0.5195" stop-color="#fe8583"/><stop offset="0.6094" stop-color="#febab9"/><stop offset="0.6719" stop-color="#ffcaca"/><stop offset="1.0000" stop-color="#ffe4e4"/></linearGradient>
<linearGradient id="g94" gradientUnits="userSpaceOnUse" x1="65.0" y1="0" x2="321.0" y2="0"><stop offset="0.0000" stop-color="#fe807e"/><stop offset="0.1523" stop-color="#fe8684"/><stop offset="0.3086" stop-color="#feadab"/><stop offset="0.3555" stop-color="#fea8a7"/><stop offset="0.4258" stop-color="#fe8887"/><stop offset="0.5195" stop-color="#fe8685"/><stop offset="0.6094" stop-color="#febdbc"/><stop offset="0.6719" stop-color="#ffcdcc"/><stop offset="1.0000" stop-color="#ffe4e3"/></linearGradient>
<linearGradient id="g95" gradientUnits="userSpaceOnUse" x1="65.0" y1="0" x2="321.0" y2="0"><stop offset="0.0000" stop-color="#fe817f"/><stop offset="0.1367" stop-color="#fe8583"/><stop offset="0.2656" stop-color="#fea8a6"/><stop offset="0.3242" stop-color="#feb2b0"/><stop offset="0.3711" stop-color="#fea7a6"/><stop offset="0.4297" stop-color="#fe8a88"/><stop offset="0.5156" stop-color="#fe8785"/><stop offset="0.6094" stop-color="#ffbfbe"/><stop offset="0.6680" stop-color="#ffcfcf"/><stop offset="1.0000" stop-color="#ffe4e3"/></linearGradient>
<linearGradient id="g96" gradientUnits="userSpaceOnUse" x1="65.0" y1="0" x2="321.0" y2="0"><stop offset="0.0000" stop-color="#fe8482"/><stop offset="0.0273" stop-color="#fe807e"/><stop offset="0.1289" stop-color="#fe8785"/><stop offset="0.2500" stop-color="#fea7a6"/><stop offset="0.3164" stop-color="#feb6b5"/><stop offset="0.3633" stop-color="#feaead"/><stop offset="0.4336" stop-color="#fe8c8a"/><stop offset="0.5117" stop-color="#fe8886"/><stop offset="0.6133" stop-color="#ffc4c3"/><stop offset="0.6758" stop-color="#ffd3d3"/><stop offset="0.9844" stop-color="#ffe2e2"/><stop offset="1.0000" stop-color="#ffe4e4"/></linearGradient>
<linearGradient id="g97" gradientUnits="userSpaceOnUse" x1="65.0" y1="0" x2="321.0" y2="0"><stop offset="0.0000" stop-color="#fe8685"/><stop offset="0.0352" stop-color="#fe817f"/><stop offset="0.1133" stop-color="#fe8785"/><stop offset="0.2383" stop-color="#fea8a7"/><stop offset="0.3086" stop-color="#febab9"/><stop offset="0.3555" stop-color="#feb6b4"/><stop offset="0.4414" stop-color="#fe8d8b"/><stop offset="0.5078" stop-color="#fe8a88"/><stop offset="0.6133" stop-color="#ffc8c7"/><stop offset="0.6719" stop-color="#ffd6d6"/><stop offset="0.9727" stop-color="#ffe1e1"/><stop offset="1.0000" stop-color="#ffe4e4"/></linearGradient>
<linearGradient id="g98" gradientUnits="userSpaceOnUse" x1="65.0" y1="0" x2="321.0" y2="0"><stop offset="0.0000" stop-color="#fe8987"/><stop offset="0.0469" stop-color="#fe817f"/><stop offset="0.1328" stop-color="#fe8f8d"/><stop offset="0.3047" stop-color="#febfbe"/><stop offset="0.3516" stop-color="#febcbb"/><stop offset="0.4102" stop-color="#fea09f"/><stop offset="0.4492" stop-color="#fe8f8d"/><stop offset="0.5000" stop-color="#fe8c8a"/><stop offset="0.5508" stop-color="#fea7a5"/><stop offset="0.6133" stop-color="#ffcbca"/><stop offset="0.6719" stop-color="#ffd9d9"/><stop offset="0.9648" stop-color="#ffe1e1"/><stop offset="1.0000" stop-color="#ffe5e4"/></linearGradient>
<linearGradient id="g99" gradientUnits="userSpaceOnUse" x1="65.0" y1="0" x2="321.0" y2="0"><stop offset="0.0000" stop-color="#fe8c8a"/><stop offset="0.0508" stop-color="#fe8583"/><stop offset="0.1445" stop-color="#fe9694"/><stop offset="0.3008" stop-color="#ffc3c3"/><stop offset="0.3477" stop-color="#ffc2c1"/><stop offset="0.4023" stop-color="#feaaa9"/><stop offset="0.4570" stop-color="#fe918f"/><stop offset="0.4961" stop-color="#fe908e"/><stop offset="0.5430" stop-color="#fea6a4"/><stop offset="0.6133" stop-color="#ffcfce"/><stop offset="0.6719" stop-color="#ffdddc"/><stop offset="0.9570" stop-color="#ffe1e1"/><stop offset="1.0000" stop-color="#ffe5e5"/></linearGradient>
<linearGradient id="g100" gradientUnits="userSpaceOnUse" x1="65.0" y1="0" x2="321.0" y2="0"><stop offset="0.0000" stop-color="#fe8f8d"/><stop offset="0.0508" stop-color="#fe8886"/><stop offset="0.1406" stop-color="#fe9a98"/><stop offset="0.2969" stop-color="#ffc8c7"/><stop offset="0.3477" stop-color="#ffc7c6"/><stop offset="0.4062" stop-color="#feaead"/><stop offset="0.4609" stop-color="#fe9694"/><stop offset="0.5000" stop-color="#fe9795"/><stop offset="0.5508" stop-color="#feafae"/><stop offset="0.6172" stop-color="#ffd4d3"/><stop offset="0.6758" stop-color="#ffe0e0"/><stop offset="0.9492" stop-color="#ffe1e1"/><stop offset="1.0000" stop-color="#ffe6e6"/></linearGradient>
<linearGradient id="g101" gradientUnits="userSpaceOnUse" x1="65.0" y1="0" x2="321.0" y2="0"><stop offset="0.0000" stop-color="#fe9290"/><stop offset="0.0508" stop-color="#fe8c8a"/><stop offset="0.1367" stop-color="#fe9d9c"/><stop offset="0.2930" stop-color="#ffcdcc"/><stop offset="0.3438" stop-color="#ffcdcc"/><stop offset="0.3984" stop-color="#feb8b7"/><stop offset="0.4609" stop-color="#fe9d9b"/><stop offset="0.5000" stop-color="#fe9d9b"/><stop offset="0.5508" stop-color="#feb4b3"/><stop offset="0.6172" stop-color="#ffd7d7"/><stop offset="0.6797" stop-color="#ffe4e3"/><stop offset="0.9414" stop-color="#ffe2e1"/><stop offset="1.0000" stop-color="#ffe7e6"/></linearGradient>
<linearGradient id="g102" gradientUnits="userSpaceOnUse" x1="65.0" y1="0" x2="321.0" y2="0"><stop offset="0.0000" stop-color="#fe9593"/><stop offset="0.0508" stop-color="#fe8f8d"/><stop offset="0.1328" stop-color="#fea1a0"/><stop offset="0.2852" stop-color="#ffd1d0"/><stop offset="0.3398" stop-color="#ffd3d2"/><stop offset="0.3945" stop-color="#ffc0bf"/><stop offset="0.4609" stop-color="#fea4a2"/><stop offset="0.5000" stop-color="#fea3a1"/><stop offset="0.5508" stop-color="#feb9b8"/><stop offset="0.6211" stop-color="#ffdcdb"/><stop offset="0.6836" stop-color="#ffe6e6"/><stop offset="0.9336" stop-color="#ffe2e2"/><stop offset="1.0000" stop-color="#ffe8e7"/></linearGradient>
<linearGradient id="g103" gradientUnits="userSpaceOnUse" x1="65.0" y1="0" x2="321.0" y2="0"><stop offset="0.0000" stop-color="#fe9896"/><stop offset="0.0508" stop-color="#fe9391"/><stop offset="0.1328" stop-color="#fea7a5"/><stop offset="0.2812" stop-color="#ffd6d5"/><stop offset="0.3359" stop-color="#ffd8d8"/><stop offset="0.3906" stop-color="#ffc8c7"/><stop offset="0.4609" stop-color="#feaba9"/><stop offset="0.5000" stop-color="#fea9a8"/><stop offset="0.5508" stop-color="#febebd"/><stop offset="0.6211" stop-color="#ffdfde"/><stop offset="0.6836" stop-color="#ffe9e9"/><stop offset="0.9297" stop-color="#ffe3e3"/><stop offset="1.0000" stop-color="#ffe8e8"/></linearGradient>
<linearGradient id="g104" gradientUnits="userSpaceOnUse" x1="65.0" y1="0" x2="321.0" y2="0"><stop offset="0.0000" stop-color="#fe9b99"/><stop offset="0.0508" stop-color="#fe9795"/><stop offset="0.1289" stop-color="#feaba9"/><stop offset="0.2734" stop-color="#ffdad9"/><stop offset="0.3320" stop-color="#ffdedd"/><stop offset="0.3906" stop-color="#ffcecd"/><stop offset="0.4648" stop-color="#feb1b0"/><stop offset="0.5078" stop-color="#feb2b0"/><stop offset="0.5742" stop-color="#ffcece"/><stop offset="0.6367" stop-color="#ffe6e5"/><stop offset="0.7148" stop-color="#ffebeb"/><stop offset="0.9219" stop-color="#ffe4e4"/><stop offset="1.0000" stop-color="#ffe9e9"/></linearGradient>
<linearGradient id="g105" gradientUnits="userSpaceOnUse" x1="65.0" y1="0" x2="321.0" y2="0"><stop offset="0.0000" stop-color="#fe9e9c"/><stop offset="0.0508" stop-color="#fe9a99"/><stop offset="0.1289" stop-color="#feb0ae"/><stop offset="0.2656" stop-color="#ffdddd"/><stop offset="0.3281" stop-color="#ffe3e2"/><stop offset="0.3867" stop-color="#ffd6d5"/><stop offset="0.4688" stop-color="#feb8b7"/><stop offset="0.5117" stop-color="#feb9b8"/><stop offset="0.6289" stop-color="#ffe7e6"/><stop offset="0.6992" stop-color="#ffeded"/><stop offset="0.9219" stop-color="#ffe6e5"/><stop offset="1.0000" stop-color="#ffebea"/></linearGradient>
<linearGradient id="g106" gradientUnits="userSpaceOnUse" x1="65.0" y1="0" x2="321.0" y2="0"><stop offset="0.0000" stop-color="#fea19f"/><stop offset="0.0508" stop-color="#fe9e9d"/><stop offset="0.1289" stop-color="#feb5b4"/><stop offset="0.2539" stop-color="#ffdfdf"/><stop offset="0.3203" stop-color="#ffe7e7"/><stop offset="0.3828" stop-color="#ffdcdc"/><stop offset="0.4727" stop-color="#febebd"/><stop offset="0.5156" stop-color="#ffc0bf"/><stop offset="0.6328" stop-color="#ffeae9"/><stop offset="0.7109" stop-color="#ffefef"/><stop offset="0.9219" stop-color="#ffe7e7"/><stop offset="1.0000" stop-color="#ffeceb"/></linearGradient>
<linearGradient id="g107" gradientUnits="userSpaceOnUse" x1="65.0" y1="0" x2="321.0" y2="0"><stop offset="0.0000" stop-color="#fea3a2"/><stop offset="0.0508" stop-color="#fea2a0"/><stop offset="0.1289" stop-color="#febab8"/><stop offset="0.2461" stop-color="#ffe2e2"/><stop offset="0.3164" stop-color="#ffebeb"/><stop offset="0.3828" stop-color="#ffe1e1"/><stop offset="0.4766" stop-color="#ffc4c4"/><stop offset="0.5234" stop-color="#ffc7c7"/><stop offset="0.6328" stop-color="#ffecec"/><stop offset="0.7148" stop-color="#fff0f0"/><stop offset="0.9219" stop-color="#ffe9e8"/><stop offset="1.0000" stop-color="#ffedec"/></linearGradient>
<linearGradient id="g108" gradientUnits="userSpaceOnUse" x1="65.0" y1="0" x2="321.0" y2="0"><stop offset="0.0000" stop-color="#fea6a5"/><stop offset="0.0508" stop-color="#fea5a4"/><stop offset="0.1289" stop-color="#febebd"/><stop offset="0.2383" stop-color="#ffe5e4"/><stop offset="0.3125" stop-color="#ffefee"/><stop offset="0.3828" stop-color="#ffe6e6"/><stop offset="0.4805" stop-color="#ffcaca"/><stop offset="0.5312" stop-color="#ffcfce"/><stop offset="0.6367" stop-color="#ffeeee"/><stop offset="0.7266" stop-color="#fff1f1"/><stop offset="0.9258" stop-color="#ffeaea"/><stop offset="1.0000" stop-color="#ffeeee"/></linearGradient>
<linearGradient id="g109" gradientUnits="userSpaceOnUse" x1="65.0" y1="0" x2="321.0" y2="0"><stop offset="0.0000" stop-color="#fea9a7"/><stop offset="0.0508" stop-color="#fea8a7"/><stop offset="0.1289" stop-color="#ffc2c2"/><stop offset="0.2344" stop-color="#ffe8e7"/><stop offset="0.3125" stop-color="#fff2f2"/><stop offset="0.3867" stop-color="#ffe9e9"/><stop offset="0.4844" stop-color="#ffd0d0"/><stop offset="0.5352" stop-color="#ffd5d4"/><stop offset="0.6406" stop-color="#fff1f1"/><stop offset="0.7422" stop-color="#fff2f2"/><stop offset="0.9336" stop-color="#ffecec"/><stop offset="1.0000" stop-color="#ffefef"/></linearGradient>
<linearGradient id="g110" gradientUnits="userSpaceOnUse" x1="65.0" y1="0" x2="321.0" y2="0"><stop offset="0.0000" stop-color="#feabaa"/><stop offset="0.0508" stop-color="#feacaa"/><stop offset="0.1328" stop-color="#ffc8c7"/><stop offset="0.2305" stop-color="#ffeaea"/><stop offset="0.3125" stop-color="#fff4f4"/><stop offset="0.3906" stop-color="#ffecec"/><stop offset="0.4883" stop-color="#ffd6d5"/><stop offset="0.5430" stop-color="#ffdbda"/><stop offset="0.6445" stop-color="#fff3f2"/><stop offset="0.7578" stop-color="#fff2f2"/><stop offset="0.9453" stop-color="#ffeeed"/><stop offset="1.0000" stop-color="#fff0f0"/></linearGradient>
<linearGradient id="g111" gradientUnits="userSpaceOnUse" x1="65.0" y1="0" x2="321.0" y2="0"><stop offset="0.0000" stop-color="#feadac"/><stop offset="0.0508" stop-color="#feaead"/><stop offset="0.1367" stop-color="#ffcecd"/><stop offset="0.2305" stop-color="#ffeded"/><stop offset="0.3164" stop-color="#fff7f7"/><stop offset="0.3984" stop-color="#ffeeee"/><stop offset="0.4922" stop-color="#ffdbda"/><stop offset="0.5547" stop-color="#ffe1e1"/><stop offset="0.6484" stop-color="#fff4f4"/><stop offset="0.7891" stop-color="#fff2f1"/><stop offset="0.9688" stop-color="#fff0f0"/><stop offset="1.0000" stop-color="#fff1f1"/></linearGradient>
<linearGradient id="g112" gradientUnits="userSpaceOnUse" x1="65.0" y1="0" x2="321.0" y2="0"><stop offset="0.0000" stop-color="#feafae"/><stop offset="0.0508" stop-color="#feb1b0"/><stop offset="0.1445" stop-color="#ffd4d4"/><stop offset="0.2305" stop-color="#fff0f0"/><stop offset="0.3203" stop-color="#fff9f9"/><stop offset="0.4102" stop-color="#ffefef"/><stop offset="0.5000" stop-color="#ffdfde"/><stop offset="0.5703" stop-color="#ffe8e8"/><stop offset="0.6602" stop-color="#fff6f6"/><stop offset="0.9531" stop-color="#fff1f0"/><stop offset="1.0000" stop-color="#fff3f2"/></linearGradient>
<linearGradient id="g113" gradientUnits="userSpaceOnUse" x1="65.0" y1="0" x2="321.0" y2="0"><stop offset="0.0000" stop-color="#feb1b0"/><stop offset="0.0508" stop-color="#feb3b2"/><stop offset="0.2109" stop-color="#ffeeee"/><stop offset="0.3008" stop-color="#fffafa"/><stop offset="0.3984" stop-color="#fff4f4"/><stop offset="0.5039" stop-color="#ffe3e3"/><stop offset="0.5859" stop-color="#ffeeee"/><stop offset="0.6797" stop-color="#fff8f8"/><stop offset="0.9492" stop-color="#fff2f1"/><stop offset="1.0000" stop-color="#fff4f3"/></linearGradient>
<linearGradient id="g114" gradientUnits="userSpaceOnUse" x1="65.0" y1="0" x2="321.0" y2="0"><stop offset="0.0000" stop-color="#feb3b2"/><stop offset="0.0469" stop-color="#feb5b4"/><stop offset="0.1406" stop-color="#ffd9d8"/><stop offset="0.2227" stop-color="#fff3f2"/><stop offset="0.3203" stop-color="#fffcfc"/><stop offset="0.4180" stop-color="#fff4f4"/><stop offset="0.5078" stop-color="#ffe7e6"/><stop offset="0.6758" stop-color="#fff8f8"/><stop offset="0.9570" stop-color="#fff3f3"/><stop offset="1.0000" stop-color="#fff5f5"/></linearGradient>
<linearGradient id="g115" gradientUnits="userSpaceOnUse" x1="65.0" y1="0" x2="321.0" y2="0"><stop offset="0.0000" stop-color="#feb4b3"/><stop offset="0.0469" stop-color="#feb7b6"/><stop offset="0.1992" stop-color="#ffefef"/><stop offset="0.2891" stop-color="#fffcfc"/><stop offset="0.3984" stop-color="#fff9f9"/><stop offset="0.5117" stop-color="#ffeaea"/><stop offset="0.6797" stop-color="#fff9f9"/><stop offset="0.9648" stop-color="#fff4f4"/><stop offset="1.0000" stop-color="#fff6f6"/></linearGradient>
<linearGradient id="g116" gradientUnits="userSpaceOnUse" x1="65.0" y1="0" x2="321.0" y2="0"><stop offset="0.0000" stop-color="#feb6b4"/><stop offset="0.0469" stop-color="#feb8b7"/><stop offset="0.1953" stop-color="#fff0f0"/><stop offset="0.2891" stop-color="#fffdfd"/><stop offset="0.4023" stop-color="#fffbfb"/><stop offset="0.5156" stop-color="#ffeded"/><stop offset="0.6875" stop-color="#fffafa"/><stop offset="0.9727" stop-color="#fff6f6"/><stop offset="1.0000" stop-color="#fff7f6"/></linearGradient>
<linearGradient id="g117" gradientUnits="userSpaceOnUse" x1="65.0" y1="0" x2="321.0" y2="0"><stop offset="0.0000" stop-color="#feb7b6"/><stop offset="0.0469" stop-color="#febab9"/><stop offset="0.1875" stop-color="#ffefef"/><stop offset="0.2812" stop-color="#fffdfd"/><stop offset="0.4062" stop-color="#fffcfc"/><stop offset="0.5195" stop-color="#fff0ef"/><stop offset="0.6914" stop-color="#fffafa"/><stop offset="0.9805" stop-color="#fff7f7"/><stop offset="1.0000" stop-color="#fff8f7"/></linearGradient>
<linearGradient id="g118" gradientUnits="userSpaceOnUse" x1="65.0" y1="0" x2="321.0" y2="0"><stop offset="0.0000" stop-color="#feb8b7"/><stop offset="0.0469" stop-color="#febcbb"/><stop offset="0.1836" stop-color="#fff0f0"/><stop offset="0.2812" stop-color="#ffffff"/><stop offset="0.4219" stop-color="#fffcfc"/><stop offset="0.5234" stop-color="#fff2f2"/><stop offset="0.6992" stop-color="#fffbfb"/><stop offset="0.9961" stop-color="#fff8f8"/><stop offset="1.0000" stop-color="#fff8f8"/></linearGradient>
<linearGradient id="g119" gradientUnits="userSpaceOnUse" x1="65.0" y1="0" x2="321.0" y2="0"><stop offset="0.0000" stop-color="#feb9b8"/><stop offset="0.0469" stop-color="#febdbc"/><stop offset="0.1797" stop-color="#fff0f0"/><stop offset="0.2773" stop-color="#ffffff"/><stop offset="0.4336" stop-color="#fffdfd"/><stop offset="0.5273" stop-color="#fff4f4"/><stop offset="0.7109" stop-color="#fffbfb"/><stop offset="1.0000" stop-color="#fff9f9"/></linearGradient>
<linearGradient id="g120" gradientUnits="userSpaceOnUse" x1="65.0" y1="0" x2="321.0" y2="0"><stop offset="0.0000" stop-color="#febbba"/><stop offset="0.0469" stop-color="#ffbfbe"/><stop offset="0.1758" stop-color="#fff0f0"/><stop offset="0.2695" stop-color="#ffffff"/><stop offset="0.4492" stop-color="#fffcfc"/><stop offset="0.5352" stop-color="#fff6f5"/><stop offset="0.7227" stop-color="#fffbfb"/><stop offset="1.0000" stop-color="#fffafa"/></linearGradient>
<linearGradient id="g121" gradientUnits="userSpaceOnUse" x1="65.0" y1="0" x2="321.0" y2="0"><stop offset="0.0000" stop-color="#febdbb"/><stop offset="0.0469" stop-color="#ffc1c0"/><stop offset="0.1758" stop-color="#fff1f1"/><stop offset="0.2695" stop-color="#ffffff"/><stop offset="0.4375" stop-color="#ffffff"/><stop offset="0.5391" stop-color="#fff7f7"/><stop offset="0.7383" stop-color="#fffcfc"/><stop offset="1.0000" stop-color="#fffafa"/></linearGradient>
<linearGradient id="g122" gradientUnits="userSpaceOnUse" x1="65.0" y1="0" x2="321.0" y2="0"><stop offset="0.0000" stop-color="#febfbe"/><stop offset="0.0469" stop-color="#ffc3c2"/><stop offset="0.1719" stop-color="#fff1f1"/><stop offset="0.2617" stop-color="#ffffff"/><stop offset="0.4141" stop-color="#fdfefe"/><stop offset="0.4727" stop-color="#fffcfc"/><stop offset="0.5625" stop-color="#fff9f9"/><stop offset="0.7734" stop-color="#fffbfb"/><stop offset="1.0000" stop-color="#fffbfb"/></linearGradient>
<linearGradient id="g123" gradientUnits="userSpaceOnUse" x1="65.0" y1="0" x2="321.0" y2="0"><stop offset="0.0000" stop-color="#ffc1c0"/><stop offset="0.0469" stop-color="#ffc6c5"/><stop offset="0.1719" stop-color="#fff2f2"/><stop offset="0.2539" stop-color="#ffffff"/><stop offset="0.3984" stop-color="#fbfcfe"/><stop offset="0.4805" stop-color="#fffdfd"/><stop offset="0.5781" stop-color="#fffbfa"/><stop offset="1.0000" stop-color="#fffcfc"/></linearGradient>
<linearGradient id="g124" gradientUnits="userSpaceOnUse" x1="65.0" y1="0" x2="321.0" y2="0"><stop offset="0.0000" stop-color="#ffc4c3"/><stop offset="0.0469" stop-color="#ffc8c7"/><stop offset="0.1719" stop-color="#fff3f3"/><stop offset="0.2500" stop-color="#ffffff"/><stop offset="0.3906" stop-color="#f9fbfd"/><stop offset="0.4883" stop-color="#fffdfd"/><stop offset="0.6016" stop-color="#fffcfc"/><stop offset="1.0000" stop-color="#fffcfc"/></linearGradient>
<linearGradient id="g125" gradientUnits="userSpaceOnUse" x1="65.0" y1="0" x2="321.0" y2="0"><stop offset="0.0000" stop-color="#ffc7c6"/><stop offset="0.0508" stop-color="#ffcccc"/><stop offset="0.1680" stop-color="#fff3f3"/><stop offset="0.2461" stop-color="#feffff"/><stop offset="0.3828" stop-color="#f7fafd"/><stop offset="0.4961" stop-color="#fffdfd"/><stop offset="1.0000" stop-color="#fffcfc"/></linearGradient>
<linearGradient id="g126" gradientUnits="userSpaceOnUse" x1="65.0" y1="0" x2="321.0" y2="0"><stop offset="0.0000" stop-color="#ffcac9"/><stop offset="0.0508" stop-color="#ffcfcf"/><stop offset="0.1719" stop-color="#fff5f5"/><stop offset="0.2461" stop-color="#feffff"/><stop offset="0.3789" stop-color="#f5f9fd"/><stop offset="0.5039" stop-color="#fffdfd"/><stop offset="1.0000" stop-color="#fffdfd"/></linearGradient>
<linearGradient id="g127" gradientUnits="userSpaceOnUse" x1="65.0" y1="0" x2="321.0" y2="0"><stop offset="0.0000" stop-color="#ffcecd"/><stop offset="0.0547" stop-color="#ffd4d3"/><stop offset="0.1719" stop-color="#fff5f5"/><stop offset="0.2461" stop-color="#feffff"/><stop offset="0.3789" stop-color="#f4f9fc"/><stop offset="0.5117" stop-color="#fffdfd"/><stop offset="1.0000" stop-color="#fffdfd"/></linearGradient>
<filter id="vblur" x="0" y="0" width="1" height="1"><feGaussianBlur stdDeviation="0.6 1.0"/></filter></defs>
<g clip-path="url(#hmclip)"><g filter="url(#vblur)"><rect x="65.0" y="49.80" width="256.0" height="2.60" fill="url(#g0)"/><rect x="65.0" y="51.80" width="256.0" height="2.60" fill="url(#g1)"/><rect x="65.0" y="53.80" width="256.0" height="2.60" fill="url(#g2)"/><rect x="65.0" y="55.80" width="256.0" height="2.60" fill="url(#g3)"/><rect x="65.0" y="57.80" width="256.0" height="2.60" fill="url(#g4)"/><rect x="65.0" y="59.80" width="256.0" height="2.60" fill="url(#g5)"/><rect x="65.0" y="61.80" width="256.0" height="2.60" fill="url(#g6)"/><rect x="65.0" y="63.80" width="256.0" height="2.60" fill="url(#g7)"/><rect x="65.0" y="65.80" width="256.0" height="2.60" fill="url(#g8)"/><rect x="65.0" y="67.80" width="256.0" height="2.60" fill="url(#g9)"/><rect x="65.0" y="69.80" width="256.0" height="2.60" fill="url(#g10)"/><rect x="65.0" y="71.80" width="256.0" height="2.60" fill="url(#g11)"/><rect x="65.0" y="73.80" width="256.0" height="2.60" fill="url(#g12)"/><rect x="65.0" y="75.80" width="256.0" height="2.60" fill="url(#g13)"/><rect x="65.0" y="77.80" width="256.0" height="2.60" fill="url(#g14)"/><rect x="65.0" y="79.80" width="256.0" height="2.60" fill="url(#g15)"/><rect x="65.0" y="81.80" width="256.0" height="2.60" fill="url(#g16)"/><rect x="65.0" y="83.80" width="256.0" height="2.60" fill="url(#g17)"/><rect x="65.0" y="85.80" width="256.0" height="2.60" fill="url(#g18)"/><rect x="65.0" y="87.80" width="256.0" height="2.60" fill="url(#g19)"/><rect x="65.0" y="89.80" width="256.0" height="2.60" fill="url(#g20)"/><rect x="65.0" y="91.80" width="256.0" height="2.60" fill="url(#g21)"/><rect x="65.0" y="93.80" width="256.0" height="2.60" fill="url(#g22)"/><rect x="65.0" y="95.80" width="256.0" height="2.60" fill="url(#g23)"/><rect x="65.0" y="97.80" width="256.0" height="2.60" fill="url(#g24)"/><rect x="65.0" y="99.80" width="256.0" height="2.60" fill="url(#g25)"/><rect x="65.0" y="101.80" width="256.0" height="2.60" fill="url(#g26)"/><rect x="65.0" y="103.80" width="256.0" height="2.60" fill="url(#g27)"/><rect x="65.0" y="105.80" width="256.0" height="2.60" fill="url(#g28)"/><rect x="65.0" y="107.80" width="256.0" height="2.60" fill="url(#g29)"/><rect x="65.0" y="109.80" width="256.0" height="2.60" fill="url(#g30)"/><rect x="65.0" y="111.80" width="256.0" height="2.60" fill="url(#g31)"/><rect x="65.0" y="113.80" width="256.0" height="2.60" fill="url(#g32)"/><rect x="65.0" y="115.80" width="256.0" height="2.60" fill="url(#g33)"/><rect x="65.0" y="117.80" width="256.0" height="2.60" fill="url(#g34)"/><rect x="65.0" y="119.80" width="256.0" height="2.60" fill="url(#g35)"/><rect x="65.0" y="121.80" width="256.0" height="2.60" fill="url(#g36)"/><rect x="65.0" y="123.80" width="256.0" height="2.60" fill="url(#g37)"/><rect x="65.0" y="125.80" width="256.0" height="2.60" fill="url(#g38)"/><rect x="65.0" y="127.80" width="256.0" height="2.60" fill="url(#g39)"/><rect x="65.0" y="129.80" width="256.0" height="2.60" fill="url(#g40)"/><rect x="65.0" y="131.80" width="256.0" height="2.60" fill="url(#g41)"/><rect x="65.0" y="133.80" width="256.0" height="2.60" fill="url(#g42)"/><rect x="65.0" y="135.80" width="256.0" height="2.60" fill="url(#g43)"/><rect x="65.0" y="137.80" width="256.0" height="2.60" fill="url(#g44)"/><rect x="65.0" y="139.80" width="256.0" height="2.60" fill="url(#g45)"/><rect x="65.0" y="141.80" width="256.0" height="2.60" fill="url(#g46)"/><rect x="65.0" y="143.80" width="256.0" height="2.60" fill="url(#g47)"/><rect x="65.0" y="145.80" width="256.0" height="2.60" fill="url(#g48)"/><rect x="65.0" y="147.80" width="256.0" height="2.60" fill="url(#g49)"/><rect x="65.0" y="149.80" width="256.0" height="2.60" fill="url(#g50)"/><rect x="65.0" y="151.80" width="256.0" height="2.60" fill="url(#g51)"/><rect x="65.0" y="153.80" width="256.0" height="2.60" fill="url(#g52)"/><rect x="65.0" y="155.80" width="256.0" height="2.60" fill="url(#g53)"/><rect x="65.0" y="157.80" width="256.0" height="2.60" fill="url(#g54)"/><rect x="65.0" y="159.80" width="256.0" height="2.60" fill="url(#g55)"/><rect x="65.0" y="161.80" width="256.0" height="2.60" fill="url(#g56)"/><rect x="65.0" y="163.80" width="256.0" height="2.60" fill="url(#g57)"/><rect x="65.0" y="165.80" width="256.0" height="2.60" fill="url(#g58)"/><rect x="65.0" y="167.80" width="256.0" height="2.60" fill="url(#g59)"/><rect x="65.0" y="169.80" width="256.0" height="2.60" fill="url(#g60)"/><rect x="65.0" y="171.80" width="256.0" height="2.60" fill="url(#g61)"/><rect x="65.0" y="173.80" width="256.0" height="2.60" fill="url(#g62)"/><rect x="65.0" y="175.80" width="256.0" height="2.60" fill="url(#g63)"/><rect x="65.0" y="177.80" width="256.0" height="2.60" fill="url(#g64)"/><rect x="65.0" y="179.80" width="256.0" height="2.60" fill="url(#g65)"/><rect x="65.0" y="181.80" width="256.0" height="2.60" fill="url(#g66)"/><rect x="65.0" y="183.80" width="256.0" height="2.60" fill="url(#g67)"/><rect x="65.0" y="185.80" width="256.0" height="2.60" fill="url(#g68)"/><rect x="65.0" y="187.80" width="256.0" height="2.60" fill="url(#g69)"/><rect x="65.0" y="189.80" width="256.0" height="2.60" fill="url(#g70)"/><rect x="65.0" y="191.80" width="256.0" height="2.60" fill="url(#g71)"/><rect x="65.0" y="193.80" width="256.0" height="2.60" fill="url(#g72)"/><rect x="65.0" y="195.80" width="256.0" height="2.60" fill="url(#g73)"/><rect x="65.0" y="197.80" width="256.0" height="2.60" fill="url(#g74)"/><rect x="65.0" y="199.80" width="256.0" height="2.60" fill="url(#g75)"/><rect x="65.0" y="201.80" width="256.0" height="2.60" fill="url(#g76)"/><rect x="65.0" y="203.80" width="256.0" height="2.60" fill="url(#g77)"/><rect x="65.0" y="205.80" width="256.0" height="2.60" fill="url(#g78)"/><rect x="65.0" y="207.80" width="256.0" height="2.60" fill="url(#g79)"/><rect x="65.0" y="209.80" width="256.0" height="2.60" fill="url(#g80)"/><rect x="65.0" y="211.80" width="256.0" height="2.60" fill="url(#g81)"/><rect x="65.0" y="213.80" width="256.0" height="2.60" fill="url(#g82)"/><rect x="65.0" y="215.80" width="256.0" height="2.60" fill="url(#g83)"/><rect x="65.0" y="217.80" width="256.0" height="2.60" fill="url(#g84)"/><rect x="65.0" y="219.80" width="256.0" height="2.60" fill="url(#g85)"/><rect x="65.0" y="221.80" width="256.0" height="2.60" fill="url(#g86)"/><rect x="65.0" y="223.80" width="256.0" height="2.60" fill="url(#g87)"/><rect x="65.0" y="225.80" width="256.0" height="2.60" fill="url(#g88)"/><rect x="65.0" y="227.80" width="256.0" height="2.60" fill="url(#g89)"/><rect x="65.0" y="229.80" width="256.0" height="2.60" fill="url(#g90)"/><rect x="65.0" y="231.80" width="256.0" height="2.60" fill="url(#g91)"/><rect x="65.0" y="233.80" width="256.0" height="2.60" fill="url(#g92)"/><rect x="65.0" y="235.80" width="256.0" height="2.60" fill="url(#g93)"/><rect x="65.0" y="237.80" width="256.0" height="2.60" fill="url(#g94)"/><rect x="65.0" y="239.80" width="256.0" height="2.60" fill="url(#g95)"/><rect x="65.0" y="241.80" width="256.0" height="2.60" fill="url(#g96)"/><rect x="65.0" y="243.80" width="256.0" height="2.60" fill="url(#g97)"/><rect x="65.0" y="245.80" width="256.0" height="2.60" fill="url(#g98)"/><rect x="65.0" y="247.80" width="256.0" height="2.60" fill="url(#g99)"/><rect x="65.0" y="249.80" width="256.0" height="2.60" fill="url(#g100)"/><rect x="65.0" y="251.80" width="256.0" height="2.60" fill="url(#g101)"/><rect x="65.0" y="253.80" width="256.0" height="2.60" fill="url(#g102)"/><rect x="65.0" y="255.80" width="256.0" height="2.60" fill="url(#g103)"/><rect x="65.0" y="257.80" width="256.0" height="2.60" fill="url(#g104)"/><rect x="65.0" y="259.80" width="256.0" height="2.60" fill="url(#g105)"/><rect x="65.0" y="261.80" width="256.0" height="2.60" fill="url(#g106)"/><rect x="65.0" y="263.80" width="256.0" height="2.60" fill="url(#g107)"/><rect x="65.0" y="265.80" width="256.0" height="2.60" fill="url(#g108)"/><rect x="65.0" y="267.80" width="256.0" height="2.60" fill="url(#g109)"/><rect x="65.0" y="269.80" width="256.0" height="2.60" fill="url(#g110)"/><rect x="65.0" y="271.80" width="256.0" height="2.60" fill="url(#g111)"/><rect x="65.0" y="273.80" width="256.0" height="2.60" fill="url(#g112)"/><rect x="65.0" y="275.80" width="256.0" height="2.60" fill="url(#g113)"/><rect x="65.0" y="277.80" width="256.0" height="2.60" fill="url(#g114)"/><rect x="65.0" y="279.80" width="256.0" height="2.60" fill="url(#g115)"/><rect x="65.0" y="281.80" width="256.0" height="2.60" fill="url(#g116)"/><rect x="65.0" y="283.80" width="256.0" height="2.60" fill="url(#g117)"/><rect x="65.0" y="285.80" width="256.0" height="2.60" fill="url(#g118)"/><rect x="65.0" y="287.80" width="256.0" height="2.60" fill="url(#g119)"/><rect x="65.0" y="289.80" width="256.0" height="2.60" fill="url(#g120)"/><rect x="65.0" y="291.80" width="256.0" height="2.60" fill="url(#g121)"/><rect x="65.0" y="293.80" width="256.0" height="2.60" fill="url(#g122)"/><rect x="65.0" y="295.80" width="256.0" height="2.60" fill="url(#g123)"/><rect x="65.0" y="297.80" width="256.0" height="2.60" fill="url(#g124)"/><rect x="65.0" y="299.80" width="256.0" height="2.60" fill="url(#g125)"/><rect x="65.0" y="301.80" width="256.0" height="2.60" fill="url(#g126)"/><rect x="65.0" y="303.80" width="256.0" height="2.60" fill="url(#g127)"/></g></g>
<line x1="65.30" y1="304.50" x2="65.30" y2="308.00" stroke="#383838" stroke-width="1" />
<line x1="129.10" y1="304.50" x2="129.10" y2="308.00" stroke="#383838" stroke-width="1" />
<line x1="192.90" y1="304.50" x2="192.90" y2="308.00" stroke="#383838" stroke-width="1" />
<line x1="256.70" y1="304.50" x2="256.70" y2="308.00" stroke="#383838" stroke-width="1" />
<line x1="320.50" y1="304.50" x2="320.50" y2="308.00" stroke="#383838" stroke-width="1" />
<line x1="61.80" y1="304.50" x2="65.30" y2="304.50" stroke="#383838" stroke-width="1" />
<line x1="61.80" y1="240.83" x2="65.30" y2="240.83" stroke="#383838" stroke-width="1" />
<line x1="61.80" y1="177.15" x2="65.30" y2="177.15" stroke="#383838" stroke-width="1" />
<line x1="61.80" y1="113.48" x2="65.30" y2="113.48" stroke="#383838" stroke-width="1" />
<line x1="61.80" y1="49.80" x2="65.30" y2="49.80" stroke="#383838" stroke-width="1" />
<text x="67.40" y="325.60" font-size="16.5" text-anchor="middle" font-weight="normal"  style="">5.30</text>
<text x="132.10" y="325.60" font-size="16.5" text-anchor="middle" font-weight="normal"  style="">5.35</text>
<text x="194.00" y="325.60" font-size="16.5" text-anchor="middle" font-weight="normal"  style="">5.40</text>
<text x="258.70" y="325.60" font-size="16.5" text-anchor="middle" font-weight="normal"  style="">5.45</text>
<text x="315.70" y="325.60" font-size="16.5" text-anchor="middle" font-weight="normal"  style="">5.50</text>
<text x="59.80" y="60.80" font-size="16.5" text-anchor="end" font-weight="normal"  style="">9.25</text>
<text x="59.80" y="117.80" font-size="16.5" text-anchor="end" font-weight="normal"  style="">9.20</text>
<text x="27.69" y="181.30" font-size="16.5">9.</text>
<path transform="translate(41.45,181.30) scale(0.00806,-0.00806)" d="M763,0 L583,0 L583,1147 Q518,1085 413,1023 Q308,961 224,930 L224,1104 Q375,1175 488,1276 Q601,1377 648,1472 L763,1472 Z" fill="#000" stroke="#000" stroke-width="31.0"/>
<text x="50.63" y="181.30" font-size="16.5">5</text>
<text x="27.69" y="249.50" font-size="16.5">9.</text>
<path transform="translate(41.45,249.50) scale(0.00806,-0.00806)" d="M763,0 L583,0 L583,1147 Q518,1085 413,1023 Q308,961 224,930 L224,1104 Q375,1175 488,1276 Q601,1377 648,1472 L763,1472 Z" fill="#000" stroke="#000" stroke-width="31.0"/>
<text x="50.63" y="249.50" font-size="16.5">0</text>
<text x="59.80" y="309.80" font-size="16.5" text-anchor="end" font-weight="normal"  style="">9.05</text>
<text x="191.40" y="344.10" font-size="16.7" text-anchor="middle" font-weight="normal"  style="">In-plane lattice parameter a (<tspan style="font-family:'Liberation Serif'">Å</tspan>)</text>
<text transform="translate(14.0,174.0) rotate(-90)" font-size="16.66" text-anchor="middle">Out-of-plane lattice parameter c (<tspan style="font-family:'Liberation Serif'">Å</tspan>)</text>
<defs><linearGradient id="cbg" gradientUnits="userSpaceOnUse" x1="93.30" y1="0" x2="293.40" y2="0"><stop offset="0.0000" stop-color="#fe7f7d"/><stop offset="0.1654" stop-color="#ffffff"/><stop offset="0.1714" stop-color="#fafcfe"/><stop offset="0.3333" stop-color="#c9e0f1"/><stop offset="0.6082" stop-color="#c1dbef"/><stop offset="1.0000" stop-color="#7cb4de"/></linearGradient></defs><rect x="93.30" y="32.40" width="200.10" height="13.10" fill="url(#cbg)"/><path d="M127.00,32.40 H93.30 V45.50 H127.00" fill="none" stroke="#999" stroke-width="0.9"/><path d="M127.00,32.40 H293.40 V45.50 H127.00" fill="none" stroke="#3a3a3a" stroke-width="1"/>
<text x="62.95" y="45.90" font-size="15">-</text>
<path transform="translate(67.95,45.90) scale(0.00732,-0.00732)" d="M763,0 L583,0 L583,1147 Q518,1085 413,1023 Q308,961 224,930 L224,1104 Q375,1175 488,1276 Q601,1377 648,1472 L763,1472 Z" fill="#000" stroke="#000" stroke-width="34.1"/>
<text x="76.29" y="45.90" font-size="15">.5</text>
<text x="298.20" y="45.90" font-size="15" text-anchor="start" font-weight="normal"  style="">7.5</text>
<text x="190.3" y="26" font-size="16.4" text-anchor="middle">E(<tspan font-weight="bold">q</tspan><tspan font-size="12.8" dy="3.9" style="stroke:none">3</tspan><tspan dy="-3.9">)-E(</tspan><tspan font-weight="bold">q</tspan><tspan font-size="12.8" dy="3.9" style="stroke:none">2</tspan><tspan dy="-3.9">) (meV/f.u.)</tspan></text>
<text x="1.00" y="14.60" font-size="24.6" text-anchor="start" font-weight="bold"  style="stroke:none">a</text>
<g clip-path="url(#hmclip)">
<polyline points="65.50,119.30 97.30,144.50 129.50,169.60 161.20,194.50 193.00,219.40 225.00,244.80 257.00,271.60 288.50,296.60" fill="none" stroke="#777" stroke-width="1.5" stroke-dasharray="4.4 2.4"/>
<circle cx="65.50" cy="119.30" r="3.0" fill="#777"/>
<circle cx="97.30" cy="144.50" r="3.0" fill="#777"/>
<circle cx="129.50" cy="169.60" r="3.0" fill="#777"/>
<circle cx="161.20" cy="194.50" r="3.0" fill="#777"/>
<circle cx="193.00" cy="219.40" r="3.0" fill="#777"/>
<circle cx="225.00" cy="244.80" r="3.0" fill="#777"/>
<circle cx="257.00" cy="271.60" r="3.0" fill="#777"/>
<circle cx="288.50" cy="296.60" r="3.0" fill="#777"/>
</g>
<rect x="65.3" y="49.8" width="255.20" height="254.70" fill="none" stroke="#383838" stroke-width="1"/>
<path d="M185.9,210.4 L189.5,216.8 L182.3,216.8 Z" fill="#000"/>
<text x="188.80" y="210.50" font-size="14.95" text-anchor="start" font-weight="normal"  style="">Equilibrium</text>
<text x="88.60" y="115.80" font-size="14.85" text-anchor="start" font-weight="normal"  style="">Compressive</text>
<text x="88.60" y="133.40" font-size="14.85" text-anchor="start" font-weight="normal"  style="">strain</text>
<text x="266.00" y="252.40" font-size="14.5" text-anchor="start" font-weight="normal"  style="">Tensile</text>
<text x="266.00" y="270.60" font-size="14.5" text-anchor="start" font-weight="normal"  style="">strain</text>
<text x="173.20" y="296.90" font-size="20.6" text-anchor="start" font-weight="normal"  style="">No CDW</text>
<text x="75.0" y="86.90" font-size="14.5" font-weight="bold">q</text>
<text x="83.7" y="92.20" font-size="12.2" style="stroke:none">2</text>
<text y="87.80" font-size="15" text-anchor="middle" style="stroke:none"><tspan x="97.2">(</tspan><tspan x="167.4">)</tspan></text>
<text y="87.60" font-size="14" text-anchor="middle" style="stroke:none"><tspan x="113.3">3</tspan><tspan x="141.9">3</tspan><tspan x="160.9">2</tspan></text>
<text y="88.60" font-size="18.3" text-anchor="middle" style="stroke:none"><tspan x="123.0">×</tspan><tspan x="151.6">×</tspan></text>
<path d="M100.2,83.2 L101.4,82.3 L104.3,88.5 L108.5,74.9 L117.8,74.9" fill="none" stroke="#000" stroke-width="1.1" stroke-linejoin="miter"/>
<path d="M128.6,83.2 L129.8,82.3 L132.7,88.5 L136.6,74.9 L146.2,74.9" fill="none" stroke="#000" stroke-width="1.1" stroke-linejoin="miter"/>
<text x="75.0" y="223.30" font-size="14.5" font-weight="bold">q</text>
<text x="83.7" y="228.60" font-size="12.2" style="stroke:none">3</text>
<text y="224.20" font-size="15" text-anchor="middle" style="stroke:none"><tspan x="97.2">(</tspan><tspan x="167.4">)</tspan></text>
<text y="224.00" font-size="14" text-anchor="middle" style="stroke:none"><tspan x="113.3">3</tspan><tspan x="141.9">3</tspan><tspan x="160.9">3</tspan></text>
<text y="225.00" font-size="18.3" text-anchor="middle" style="stroke:none"><tspan x="123.0">×</tspan><tspan x="151.6">×</tspan></text>
<path d="M100.2,219.6 L101.4,218.7 L104.3,224.9 L108.5,211.3 L117.8,211.3" fill="none" stroke="#000" stroke-width="1.1" stroke-linejoin="miter"/>
<path d="M128.6,219.6 L129.8,218.7 L132.7,224.9 L136.6,211.3 L146.2,211.3" fill="none" stroke="#000" stroke-width="1.1" stroke-linejoin="miter"/>
<text x="340.00" y="17.70" font-size="25" text-anchor="start" font-weight="bold"  style="">b</text>
<rect x="387.4" y="26.6" width="294.00" height="112.60" fill="none" stroke="#383838" stroke-width="1"/>
<line x1="400.60" y1="139.20" x2="400.60" y2="142.40" stroke="#383838" stroke-width="1" />
<text x="401.10" y="158.80" font-size="16.5" text-anchor="middle" font-weight="normal"  style="">0</text>
<line x1="489.73" y1="139.20" x2="489.73" y2="142.40" stroke="#383838" stroke-width="1" />
<path transform="translate(485.64,158.80) scale(0.00806,-0.00806)" d="M763,0 L583,0 L583,1147 Q518,1085 413,1023 Q308,961 224,930 L224,1104 Q375,1175 488,1276 Q601,1377 648,1472 L763,1472 Z" fill="#000" stroke="#000" stroke-width="31.0"/>
<line x1="578.86" y1="139.20" x2="578.86" y2="142.40" stroke="#383838" stroke-width="1" />
<text x="579.36" y="158.80" font-size="16.5" text-anchor="middle" font-weight="normal"  style="">2</text>
<line x1="667.99" y1="139.20" x2="667.99" y2="142.40" stroke="#383838" stroke-width="1" />
<text x="668.49" y="158.80" font-size="16.5" text-anchor="middle" font-weight="normal"  style="">3</text>
<line x1="383.90" y1="39.40" x2="387.40" y2="39.40" stroke="#383838" stroke-width="1" />
<text x="381.20" y="46.00" font-size="16.8" text-anchor="end" font-weight="normal"  style="">0</text>
<line x1="383.90" y1="75.25" x2="387.40" y2="75.25" stroke="#383838" stroke-width="1" />
<text x="366.26" y="81.85" font-size="16.8">-</text>
<path transform="translate(371.86,81.85) scale(0.00820,-0.00820)" d="M763,0 L583,0 L583,1147 Q518,1085 413,1023 Q308,961 224,930 L224,1104 Q375,1175 488,1276 Q601,1377 648,1472 L763,1472 Z" fill="#000" stroke="#000" stroke-width="30.5"/>
<line x1="383.90" y1="111.10" x2="387.40" y2="111.10" stroke="#383838" stroke-width="1" />
<text x="381.20" y="117.70" font-size="16.8" text-anchor="end" font-weight="normal"  style="">-2</text>
<text x="534.00" y="172.30" font-size="16.5" text-anchor="middle" font-weight="normal"  style="">Pressure (GPa)</text>
<text transform="translate(354.2,83.0) rotate(-90)" font-size="16.6" text-anchor="middle"><tspan font-style="italic">H</tspan> (meV/f.u.)</text>
<line x1="614.10" y1="26.60" x2="614.10" y2="139.20" stroke="#000" stroke-width="1.5" stroke-dasharray="5.2 2.6" stroke-dashoffset="1.7"/>
<text x="608.00" y="128.60" font-size="14.7" text-anchor="end" font-weight="normal"  style="">Expt. [45]</text>
<polyline points="400.60,39.60 489.73,39.60 578.86,39.60 667.99,39.60" fill="none" stroke="#000" stroke-width="1.8" />
<polyline points="400.60,108.10 489.73,65.70 578.86,46.80 667.99,37.70" fill="none" stroke="#80b6e0" stroke-width="1.8" />
<polyline points="400.60,126.10 489.73,92.90 578.86,62.30 667.99,34.40" fill="none" stroke="#fc7b7b" stroke-width="1.8" />
<circle cx="400.60" cy="39.60" r="4.5" fill="#000"/>
<circle cx="489.73" cy="39.60" r="4.5" fill="#000"/>
<circle cx="578.86" cy="39.60" r="4.5" fill="#000"/>
<circle cx="667.99" cy="40.20" r="4.5" fill="#000"/>
<circle cx="400.60" cy="108.10" r="4.5" fill="#80b6e0"/>
<circle cx="489.73" cy="65.70" r="4.5" fill="#80b6e0"/>
<circle cx="578.86" cy="46.80" r="4.5" fill="#80b6e0"/>
<circle cx="667.99" cy="37.70" r="4.5" fill="#80b6e0"/>
<circle cx="400.60" cy="126.10" r="4.5" fill="#fc7b7b"/>
<circle cx="489.73" cy="92.90" r="4.5" fill="#fc7b7b"/>
<circle cx="578.86" cy="62.30" r="4.5" fill="#fc7b7b"/>
<circle cx="667.99" cy="34.40" r="4.5" fill="#fc7b7b"/>
<text x="346.00" y="178.20" font-size="25" text-anchor="start" font-weight="bold"  style="">c</text>
<rect x="386.5" y="188.5" width="294.20" height="113.30" fill="none" stroke="#383838" stroke-width="1"/>
<line x1="399.80" y1="301.80" x2="399.80" y2="305.00" stroke="#383838" stroke-width="1" />
<text x="403.60" y="322.50" font-size="16.5" text-anchor="middle" font-weight="normal"  style="">5.30</text>
<line x1="466.67" y1="301.80" x2="466.67" y2="305.00" stroke="#383838" stroke-width="1" />
<text x="470.00" y="322.50" font-size="16.5" text-anchor="middle" font-weight="normal"  style="">5.35</text>
<line x1="533.55" y1="301.80" x2="533.55" y2="305.00" stroke="#383838" stroke-width="1" />
<text x="536.30" y="322.50" font-size="16.5" text-anchor="middle" font-weight="normal"  style="">5.40</text>
<line x1="600.43" y1="301.80" x2="600.43" y2="305.00" stroke="#383838" stroke-width="1" />
<text x="601.70" y="322.50" font-size="16.5" text-anchor="middle" font-weight="normal"  style="">5.45</text>
<line x1="667.30" y1="301.80" x2="667.30" y2="305.00" stroke="#383838" stroke-width="1" />
<text x="668.30" y="322.50" font-size="16.5" text-anchor="middle" font-weight="normal"  style="">5.50</text>
<line x1="383.00" y1="199.80" x2="386.50" y2="199.80" stroke="#383838" stroke-width="1" />
<text x="381.20" y="206.40" font-size="16.8" text-anchor="end" font-weight="normal"  style="">0</text>
<line x1="383.00" y1="230.00" x2="386.50" y2="230.00" stroke="#383838" stroke-width="1" />
<text x="381.20" y="236.60" font-size="16.8" text-anchor="end" font-weight="normal"  style="">-2</text>
<line x1="383.00" y1="260.20" x2="386.50" y2="260.20" stroke="#383838" stroke-width="1" />
<text x="381.20" y="266.80" font-size="16.8" text-anchor="end" font-weight="normal"  style="">-4</text>
<line x1="383.00" y1="290.40" x2="386.50" y2="290.40" stroke="#383838" stroke-width="1" />
<text x="381.20" y="297.00" font-size="16.8" text-anchor="end" font-weight="normal"  style="">-6</text>
<text x="528.00" y="343.10" font-size="16.7" text-anchor="middle" font-weight="normal"  style="">In-plane lattice parameter a (<tspan style="font-family:'Liberation Serif'">Å</tspan>)</text>
<text transform="translate(354.7,244.6) rotate(-90)" font-size="16.8" text-anchor="middle"><tspan font-style="italic">E</tspan> (meV/f.u.)</text>
<line x1="526.30" y1="188.50" x2="526.30" y2="301.80" stroke="#000" stroke-width="1.5" stroke-dasharray="5.2 2.6" stroke-dashoffset="0.5"/>
<polyline points="399.80,199.80 433.24,199.80 466.67,199.80 500.11,199.80 533.55,199.80 566.99,199.80 600.43,199.80 633.86,199.80 667.30,199.80" fill="none" stroke="#000" stroke-width="1.8" />
<polyline points="399.80,290.30 433.24,271.10 466.67,257.20 500.11,239.60 533.55,228.10 566.99,215.50 600.43,204.90 633.86,201.50 667.30,200.20" fill="none" stroke="#80b6e0" stroke-width="1.8" />
<polyline points="399.80,277.70 433.24,266.50 466.67,257.20 500.11,246.30 533.55,235.40 566.99,222.80 600.43,212.20 633.86,199.90 667.30,200.00" fill="none" stroke="#fc7b7b" stroke-width="1.8" />
<circle cx="399.80" cy="199.80" r="4.5" fill="#000"/>
<circle cx="433.24" cy="199.80" r="4.5" fill="#000"/>
<circle cx="466.67" cy="199.80" r="4.5" fill="#000"/>
<circle cx="500.11" cy="199.80" r="4.5" fill="#000"/>
<circle cx="533.55" cy="199.80" r="4.5" fill="#000"/>
<circle cx="566.99" cy="199.80" r="4.5" fill="#000"/>
<circle cx="600.43" cy="199.80" r="4.5" fill="#000"/>
<circle cx="633.86" cy="199.80" r="4.5" fill="#000"/>
<circle cx="667.30" cy="199.80" r="4.5" fill="#000"/>
<circle cx="399.80" cy="290.30" r="4.5" fill="#80b6e0"/>
<circle cx="433.24" cy="271.10" r="4.5" fill="#80b6e0"/>
<circle cx="466.67" cy="257.20" r="4.5" fill="#80b6e0"/>
<circle cx="500.11" cy="239.60" r="4.5" fill="#80b6e0"/>
<circle cx="533.55" cy="228.10" r="4.5" fill="#80b6e0"/>
<circle cx="566.99" cy="215.50" r="4.5" fill="#80b6e0"/>
<circle cx="600.43" cy="204.90" r="4.5" fill="#80b6e0"/>
<circle cx="633.86" cy="201.50" r="4.5" fill="#80b6e0"/>
<circle cx="667.30" cy="200.20" r="4.5" fill="#80b6e0"/>
<circle cx="399.80" cy="277.70" r="4.5" fill="#fc7b7b"/>
<circle cx="433.24" cy="266.50" r="4.5" fill="#fc7b7b"/>
<circle cx="466.67" cy="257.20" r="4.5" fill="#fc7b7b"/>
<circle cx="500.11" cy="246.30" r="4.5" fill="#fc7b7b"/>
<circle cx="533.55" cy="235.40" r="4.5" fill="#fc7b7b"/>
<circle cx="566.99" cy="222.80" r="4.5" fill="#fc7b7b"/>
<circle cx="600.43" cy="212.20" r="4.5" fill="#fc7b7b"/>
<circle cx="633.86" cy="199.90" r="4.5" fill="#fc7b7b"/>
<circle cx="667.30" cy="200.00" r="4.5" fill="#fc7b7b"/>
<text x="520.80" y="286.00" font-size="13" text-anchor="end" font-weight="normal"  style="">Compressive</text>
<line x1="519.50" y1="291.60" x2="481.00" y2="291.60" stroke="#000" stroke-width="1.8" />
<path d="M476.5,291.6 L483.5,288.6 L483.5,294.6 Z" fill="#000"/>
<text x="531.50" y="286.30" font-size="13" text-anchor="start" font-weight="normal"  style="">Tensile</text>
<line x1="531.00" y1="291.70" x2="570.00" y2="291.70" stroke="#000" stroke-width="1.8" />
<path d="M575,291.7 L568,288.7 L568,294.7 Z" fill="#000"/>
<circle cx="618.00" cy="258.30" r="5.0" fill="#000"/>
<circle cx="618.00" cy="274.40" r="5.0" fill="#80b6e0"/>
<circle cx="618.00" cy="290.30" r="5.0" fill="#fc7b7b"/>
<text x="629.30" y="262.60" font-size="15" text-anchor="start" font-weight="normal"  style="">pristine</text>
<text x="629.2" y="278.6" font-size="15"><tspan font-weight="bold">q</tspan><tspan font-size="11.5" dy="3">2</tspan></text>
<text x="629.2" y="294.6" font-size="15"><tspan font-weight="bold">q</tspan><tspan font-size="11.5" dy="3">3</tspan></text>
</svg>
</body></html>
